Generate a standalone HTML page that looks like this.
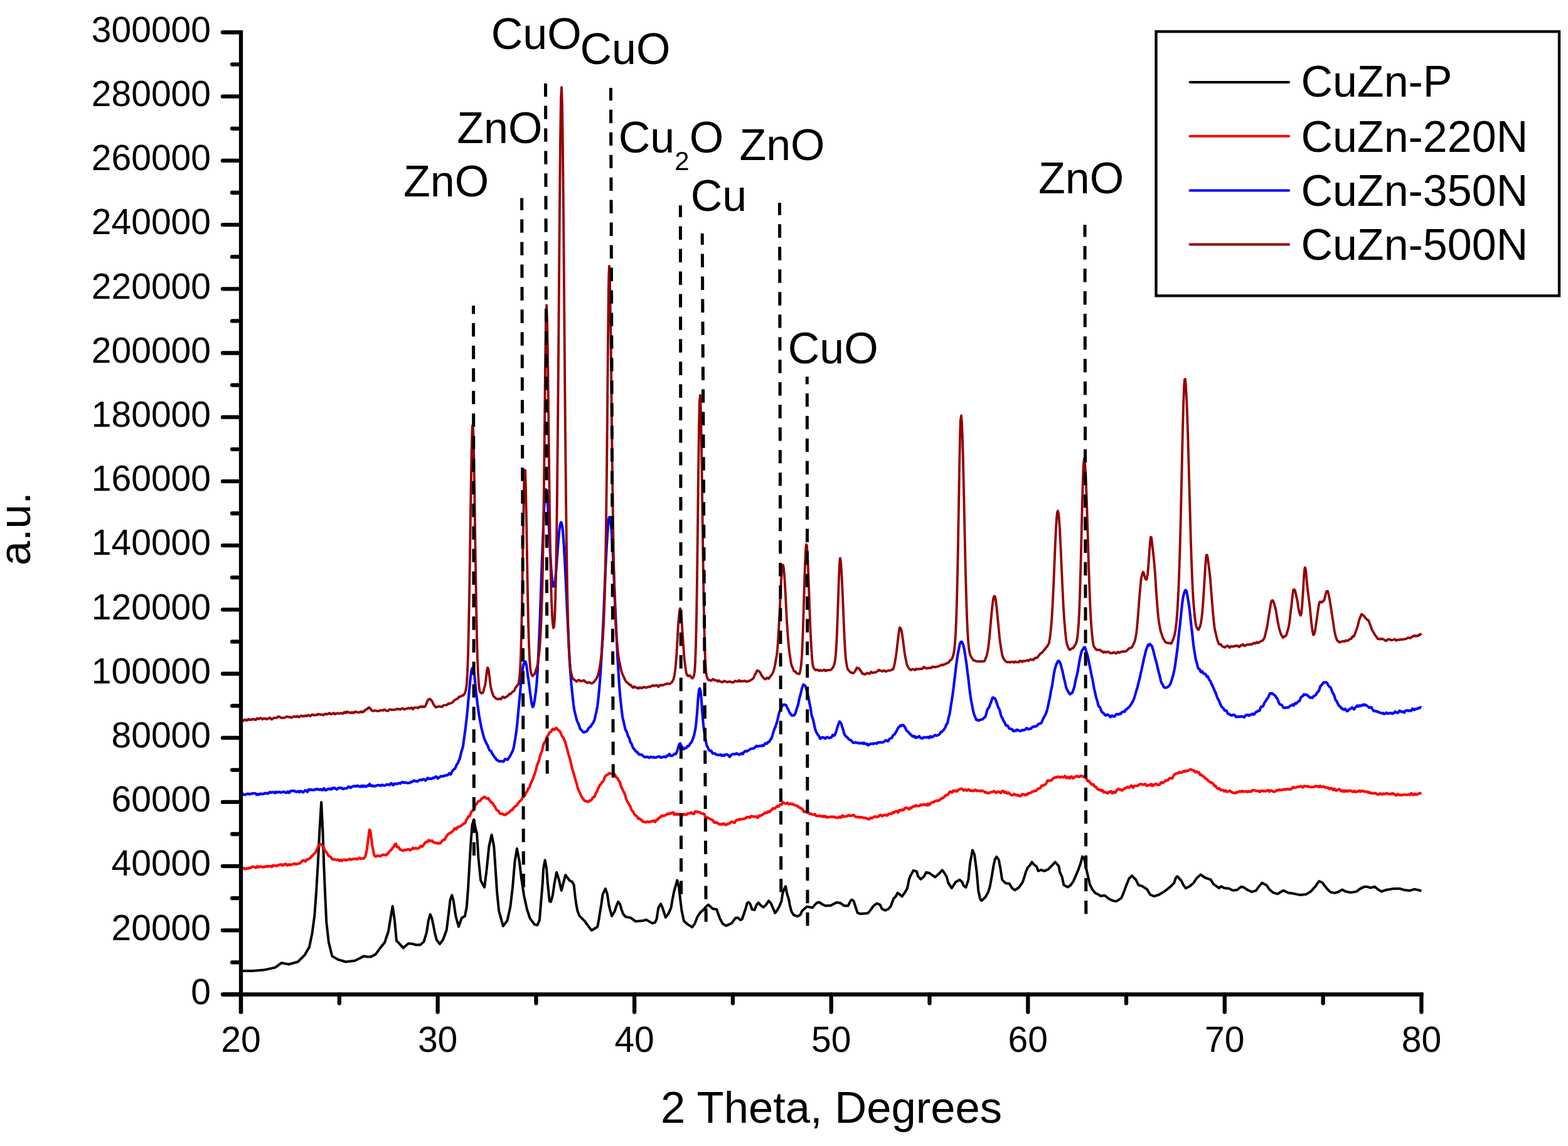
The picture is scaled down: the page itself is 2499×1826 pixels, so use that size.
<!DOCTYPE html>
<html><head><meta charset="utf-8"><title>XRD patterns</title>
<style>html,body{margin:0;padding:0;background:#fff;} svg{display:block;}</style></head>
<body><svg width="2499" height="1826" viewBox="0 0 2499 1826" font-family="'Liberation Sans', Arial, sans-serif" fill="#000">
<rect width="2499" height="1826" fill="#fff"/>
<path d="M384.0 1547.5 L387.6 1547.0 L402.2 1547.0 L420.3 1545.6 L438.5 1541.6 L448.5 1534.3 L460.3 1536.5 L474.8 1532.5 L485.7 1521.6 L493.0 1508.9 L497.5 1487.1 L501.2 1459.8 L503.9 1423.5 L506.6 1378.1 L509.3 1323.6 L512.1 1278.2 L514.4 1323.6 L516.2 1378.1 L518.1 1423.5 L520.2 1468.9 L523.9 1501.6 L529.3 1523.4 L538.4 1528.8 L551.1 1532.5 L565.7 1530.7 L580.2 1523.4 L584.0 1524.4 L591.3 1524.4 L598.5 1520.8 L605.8 1510.6 L613.0 1501.9 L618.9 1484.5 L622.5 1462.7 L625.7 1443.8 L629.0 1467.0 L631.9 1499.0 L636.3 1503.3 L642.8 1510.6 L650.8 1503.3 L658.1 1504.1 L662.4 1505.5 L669.7 1505.5 L675.5 1500.4 L679.9 1485.9 L682.8 1467.0 L685.7 1456.9 L688.6 1464.1 L692.9 1485.9 L695.8 1497.5 L700.9 1504.1 L706.0 1497.5 L711.8 1481.6 L715.4 1452.5 L717.6 1433.6 L720.2 1426.4 L722.7 1435.1 L726.3 1459.8 L731.0 1476.5 L735.8 1462.7 L740.9 1459.8 L743.8 1445.2 L746.0 1416.2 L748.1 1379.9 L750.3 1343.6 L752.5 1314.5 L755.1 1305.8 L758.3 1321.8 L760.0 1327.0 L762.4 1366.6 L766.1 1402.9 L772.1 1413.8 L775.7 1384.7 L779.4 1348.4 L783.6 1330.3 L787.2 1348.4 L789.7 1384.7 L792.1 1421.1 L795.1 1451.3 L801.8 1475.5 L808.4 1467.1 L813.3 1445.3 L816.9 1415.0 L820.5 1372.6 L823.9 1352.1 L827.8 1372.6 L831.4 1402.9 L835.1 1427.1 L839.9 1448.9 L844.7 1463.4 L852.0 1473.1 L856.5 1474.1 L859.9 1465.9 L862.3 1436.9 L864.7 1407.8 L866.1 1383.6 L868.6 1370.5 L871.0 1383.6 L872.9 1407.8 L875.8 1435.9 L877.8 1436.9 L880.7 1427.2 L883.6 1407.8 L887.0 1389.9 L890.4 1400.0 L894.7 1418.9 L898.1 1405.9 L901.2 1394.2 L907.8 1403.0 L911.7 1404.9 L914.6 1409.7 L916.5 1427.2 L918.5 1441.7 L920.4 1451.4 L923.3 1459.1 L932.0 1467.8 L936.9 1474.6 L942.7 1482.4 L949.4 1478.5 L952.3 1476.6 L954.3 1465.9 L958.2 1441.7 L960.6 1425.2 L964.9 1416.0 L967.8 1424.3 L970.7 1443.6 L972.7 1451.4 L975.1 1459.6 L979.5 1452.3 L982.4 1443.6 L985.3 1436.9 L988.2 1440.7 L990.6 1449.4 L993.0 1456.2 L997.1 1460.9 L1005.0 1462.3 L1013.0 1468.0 L1025.4 1467.1 L1029.8 1465.4 L1039.5 1471.1 L1044.0 1469.8 L1046.6 1464.0 L1049.3 1446.3 L1053.2 1440.2 L1055.9 1446.3 L1060.8 1461.8 L1065.2 1456.1 L1069.6 1446.3 L1071.4 1434.8 L1074.0 1421.6 L1079.3 1402.6 L1082.0 1413.6 L1084.2 1433.1 L1086.4 1450.8 L1090.0 1467.6 L1096.1 1472.9 L1103.2 1477.3 L1107.6 1471.1 L1111.2 1461.4 L1116.5 1453.4 L1120.0 1450.8 L1124.5 1445.5 L1128.9 1441.5 L1136.0 1448.1 L1142.1 1449.0 L1147.5 1464.0 L1151.9 1472.0 L1157.2 1475.1 L1166.0 1471.1 L1172.2 1462.7 L1175.8 1462.3 L1180.2 1466.0 L1182.7 1464.5 L1185.3 1457.0 L1188.8 1446.3 L1190.6 1439.3 L1192.8 1437.5 L1195.5 1440.2 L1198.6 1449.0 L1202.6 1449.9 L1205.7 1441.9 L1208.7 1438.4 L1212.7 1442.8 L1216.7 1445.5 L1220.7 1441.9 L1225.1 1435.3 L1228.7 1439.3 L1231.3 1445.5 L1235.3 1454.7 L1238.4 1450.8 L1241.9 1444.6 L1245.5 1435.7 L1247.2 1424.2 L1249.9 1416.3 L1252.1 1412.3 L1254.3 1424.2 L1257.0 1432.2 L1258.7 1441.9 L1261.4 1452.5 L1264.9 1457.8 L1271.1 1460.1 L1275.5 1457.8 L1278.2 1451.6 L1286.1 1444.6 L1295.0 1446.3 L1301.2 1438.8 L1305.6 1437.5 L1310.9 1441.0 L1315.3 1443.2 L1324.2 1442.8 L1333.0 1437.9 L1339.2 1438.8 L1345.4 1443.2 L1351.6 1443.2 L1356.0 1434.8 L1357.8 1433.5 L1360.5 1435.7 L1363.1 1443.7 L1366.6 1454.3 L1371.1 1456.1 L1378.8 1455.4 L1383.3 1455.0 L1387.7 1449.7 L1392.1 1443.5 L1397.4 1439.5 L1402.7 1441.7 L1405.4 1447.9 L1410.7 1450.6 L1415.1 1448.8 L1419.5 1444.4 L1424.0 1432.0 L1427.5 1428.5 L1430.6 1422.7 L1433.7 1424.9 L1437.7 1428.5 L1442.5 1421.4 L1446.1 1415.2 L1448.7 1401.9 L1450.5 1396.6 L1455.8 1386.9 L1461.1 1388.7 L1462.9 1395.7 L1467.3 1401.0 L1472.6 1396.6 L1476.1 1390.0 L1481.5 1391.3 L1485.0 1394.0 L1490.3 1397.5 L1495.6 1393.1 L1501.8 1386.4 L1505.3 1391.3 L1508.9 1397.5 L1511.5 1407.2 L1516.8 1415.2 L1523.0 1405.5 L1529.2 1401.9 L1533.6 1405.5 L1535.4 1410.8 L1539.4 1413.9 L1543.4 1401.9 L1546.0 1375.4 L1550.0 1354.6 L1553.1 1362.1 L1556.6 1388.7 L1559.3 1419.6 L1562.0 1432.0 L1564.6 1435.1 L1570.6 1429.3 L1575.0 1421.4 L1577.7 1412.5 L1580.3 1398.4 L1583.4 1379.8 L1585.7 1369.2 L1588.3 1365.2 L1591.8 1370.1 L1594.5 1384.2 L1597.2 1401.9 L1602.5 1407.2 L1608.7 1408.1 L1613.1 1415.2 L1617.5 1418.3 L1623.7 1414.3 L1629.9 1405.5 L1632.5 1397.5 L1635.2 1388.7 L1637.8 1382.5 L1641.4 1378.9 L1644.5 1373.6 L1647.6 1377.2 L1652.0 1380.7 L1654.7 1387.8 L1659.1 1386.0 L1664.4 1387.8 L1670.6 1385.1 L1677.6 1378.0 L1681.6 1373.6 L1687.4 1379.8 L1689.1 1389.5 L1692.7 1397.5 L1695.3 1409.9 L1701.5 1413.4 L1706.0 1410.8 L1710.4 1404.6 L1714.8 1394.8 L1719.2 1384.2 L1722.8 1373.6 L1725.0 1364.8 L1728.1 1368.3 L1731.6 1386.0 L1734.3 1397.5 L1736.9 1409.0 L1741.3 1417.8 L1745.8 1423.1 L1750.0 1425.0 L1754.4 1427.7 L1760.6 1426.8 L1767.7 1432.5 L1773.9 1435.2 L1779.2 1436.1 L1787.2 1430.8 L1791.6 1420.2 L1795.1 1410.4 L1799.5 1399.8 L1804.0 1395.4 L1810.2 1401.6 L1814.6 1410.4 L1819.9 1411.7 L1827.8 1416.6 L1833.1 1425.5 L1839.3 1428.1 L1847.3 1425.5 L1856.1 1420.2 L1865.0 1413.1 L1871.2 1406.9 L1873.8 1398.9 L1876.5 1396.3 L1882.7 1403.3 L1886.2 1410.4 L1889.8 1415.3 L1896.0 1412.2 L1902.1 1406.9 L1907.5 1398.9 L1913.6 1393.6 L1920.7 1398.5 L1929.6 1401.6 L1934.0 1408.7 L1940.2 1413.1 L1943.0 1415.0 L1946.0 1412.3 L1951.3 1415.0 L1958.8 1415.7 L1964.8 1418.7 L1971.6 1418.0 L1977.6 1413.1 L1982.1 1413.8 L1988.9 1418.3 L1994.9 1421.0 L2001.7 1419.1 L2005.4 1413.8 L2011.4 1406.7 L2018.9 1410.8 L2022.7 1416.8 L2028.7 1422.1 L2036.2 1424.4 L2045.3 1418.7 L2052.8 1422.5 L2060.3 1423.6 L2071.6 1425.9 L2081.4 1425.1 L2088.9 1420.6 L2096.4 1412.3 L2099.4 1407.8 L2102.4 1404.1 L2107.5 1406.3 L2111.3 1411.6 L2115.0 1416.1 L2120.3 1421.4 L2127.1 1422.9 L2133.1 1421.0 L2139.1 1417.6 L2145.1 1420.6 L2152.6 1422.1 L2161.7 1420.6 L2167.7 1416.1 L2173.7 1413.1 L2179.7 1413.1 L2184.2 1414.6 L2191.0 1412.7 L2194.7 1416.1 L2201.5 1420.6 L2209.0 1418.0 L2220.3 1416.1 L2231.6 1416.1 L2239.1 1418.3 L2246.6 1419.1 L2254.1 1416.8 L2257.9 1417.6 L2265.4 1419.5" fill="none" stroke="#000000" stroke-width="4.0" stroke-linejoin="round"/>
<path d="M384.0 1385.1 L385.0 1385.0 L386.0 1384.3 L387.0 1383.6 L388.0 1383.4 L389.0 1383.4 L390.0 1384.3 L391.0 1384.9 L392.0 1383.8 L393.0 1383.4 L394.0 1384.0 L395.0 1384.2 L396.0 1383.4 L397.0 1382.8 L398.0 1383.3 L399.0 1383.3 L400.0 1382.3 L401.0 1381.6 L402.0 1381.0 L403.0 1380.6 L404.0 1381.0 L405.0 1381.5 L406.0 1381.8 L407.0 1382.4 L408.0 1382.7 L409.0 1381.5 L410.0 1380.2 L411.0 1380.9 L412.0 1382.0 L413.0 1381.6 L414.0 1380.7 L415.0 1380.6 L416.0 1380.6 L417.0 1381.1 L418.0 1381.8 L419.0 1381.3 L420.0 1381.4 L421.0 1381.7 L422.0 1381.0 L423.0 1380.7 L424.0 1380.9 L425.0 1380.4 L426.0 1379.8 L427.0 1380.6 L428.0 1380.8 L429.0 1379.9 L430.0 1380.2 L431.0 1380.1 L432.0 1380.2 L433.0 1381.3 L434.0 1380.5 L435.0 1378.9 L436.0 1379.2 L437.0 1379.6 L438.0 1379.4 L439.0 1379.4 L440.0 1379.3 L441.0 1379.8 L442.0 1379.7 L443.0 1378.7 L444.0 1378.2 L445.0 1378.2 L446.0 1377.8 L447.0 1377.2 L448.0 1377.3 L449.0 1378.1 L450.0 1379.2 L451.0 1378.8 L452.0 1377.2 L453.0 1377.2 L454.0 1377.4 L455.0 1376.5 L456.0 1376.8 L457.0 1378.1 L458.0 1379.0 L459.0 1378.7 L460.0 1377.6 L461.0 1377.2 L462.0 1377.9 L463.0 1378.5 L464.0 1377.6 L465.0 1377.2 L466.0 1377.4 L467.0 1377.2 L468.0 1376.5 L469.0 1376.0 L470.0 1376.2 L471.0 1376.7 L472.0 1377.4 L473.0 1377.1 L474.0 1376.4 L475.0 1376.1 L476.0 1375.8 L477.0 1375.8 L478.0 1375.5 L479.0 1374.5 L480.0 1373.5 L481.0 1372.9 L482.0 1371.5 L483.0 1370.7 L484.0 1371.2 L485.0 1371.3 L486.0 1372.2 L487.0 1372.5 L488.0 1370.5 L489.0 1369.3 L490.0 1369.6 L491.0 1369.3 L492.0 1368.2 L493.0 1367.7 L494.0 1367.6 L495.0 1366.5 L496.0 1364.8 L497.0 1364.1 L498.0 1363.3 L499.0 1362.0 L500.0 1361.0 L501.0 1360.1 L502.0 1359.4 L503.0 1357.9 L504.0 1355.7 L505.0 1353.6 L506.0 1351.2 L507.0 1348.6 L508.0 1347.4 L509.0 1346.6 L510.0 1345.3 L511.0 1345.1 L511.0 1345.2 L512.0 1345.5 L513.0 1346.4 L514.0 1347.8 L515.0 1348.7 L516.0 1350.0 L517.0 1353.4 L518.0 1355.9 L519.0 1356.7 L520.0 1357.8 L521.0 1359.1 L522.0 1360.8 L523.0 1362.8 L524.0 1363.8 L525.0 1364.3 L526.0 1364.9 L527.0 1365.4 L528.0 1366.6 L529.0 1368.4 L530.0 1369.3 L531.0 1369.7 L532.0 1369.5 L533.0 1369.1 L534.0 1369.4 L535.0 1369.8 L536.0 1370.2 L537.0 1370.3 L538.0 1370.0 L539.0 1369.5 L540.0 1370.5 L541.0 1371.7 L542.0 1370.8 L543.0 1370.2 L544.0 1371.5 L545.0 1371.7 L546.0 1370.4 L547.0 1370.0 L548.0 1369.7 L549.0 1369.5 L550.0 1370.6 L551.0 1370.9 L552.0 1370.2 L553.0 1370.0 L554.0 1370.1 L555.0 1369.8 L556.0 1369.2 L557.0 1368.5 L558.0 1368.9 L559.0 1369.9 L560.0 1369.6 L561.0 1369.3 L562.0 1369.0 L563.0 1368.4 L564.0 1368.5 L565.0 1368.8 L566.0 1368.4 L567.0 1368.1 L568.0 1368.6 L569.0 1369.2 L570.0 1369.0 L571.0 1368.1 L572.0 1366.9 L573.0 1366.7 L574.0 1368.0 L575.0 1368.3 L576.0 1367.7 L577.0 1367.8 L578.0 1368.1 L579.0 1368.1 L580.0 1367.4 L581.0 1366.4 L582.0 1364.9 L583.0 1361.5 L584.0 1357.3 L585.0 1351.3 L586.0 1343.6 L587.0 1335.9 L588.0 1328.1 L588.6 1323.3 L589.0 1322.0 L590.0 1324.0 L591.0 1329.0 L592.0 1336.9 L593.0 1345.3 L594.0 1350.9 L595.0 1356.1 L596.0 1361.2 L597.0 1363.9 L598.0 1364.7 L599.0 1364.8 L600.0 1364.0 L601.0 1363.6 L602.0 1363.9 L603.0 1363.4 L604.0 1363.2 L605.0 1364.1 L606.0 1364.5 L607.0 1363.9 L608.0 1362.9 L609.0 1362.2 L610.0 1361.9 L611.0 1362.0 L612.0 1362.2 L613.0 1362.0 L614.0 1362.1 L615.0 1362.8 L616.0 1362.3 L617.0 1360.7 L618.0 1360.1 L619.0 1359.4 L620.0 1357.7 L621.0 1355.9 L622.0 1355.3 L623.0 1354.9 L624.0 1353.4 L625.0 1351.7 L626.0 1350.7 L627.0 1350.1 L628.0 1348.1 L628.7 1346.2 L629.0 1345.9 L630.0 1344.8 L631.0 1344.5 L632.0 1347.2 L633.0 1349.8 L634.0 1349.9 L635.0 1349.5 L636.0 1350.9 L637.0 1353.1 L638.0 1353.8 L639.0 1353.9 L640.0 1354.2 L641.0 1354.9 L642.0 1355.5 L643.0 1355.6 L644.0 1354.7 L645.0 1354.2 L646.0 1354.3 L647.0 1354.5 L648.0 1354.3 L649.0 1353.5 L650.0 1353.3 L651.0 1353.2 L652.0 1353.2 L653.0 1354.7 L654.0 1354.8 L655.0 1353.5 L656.0 1353.4 L657.0 1352.3 L658.0 1350.9 L659.0 1351.6 L660.0 1352.4 L661.0 1351.8 L662.0 1351.1 L663.0 1351.2 L664.0 1351.8 L665.0 1352.3 L666.0 1351.8 L667.0 1351.5 L668.0 1351.3 L669.0 1350.0 L670.0 1348.2 L671.0 1347.9 L672.0 1348.9 L673.0 1348.9 L674.0 1347.7 L675.0 1346.3 L676.0 1344.9 L677.0 1343.6 L678.0 1342.3 L679.0 1341.4 L680.0 1341.3 L681.0 1341.5 L682.0 1340.5 L683.0 1339.1 L683.1 1338.5 L684.0 1338.9 L685.0 1340.2 L686.0 1340.2 L687.0 1339.7 L688.0 1339.4 L689.0 1339.6 L690.0 1341.1 L691.0 1342.3 L692.0 1342.4 L693.0 1342.6 L694.0 1343.3 L695.0 1343.3 L696.0 1342.9 L697.0 1343.1 L698.0 1343.7 L699.0 1344.0 L700.0 1343.5 L701.0 1343.8 L702.0 1343.7 L703.0 1341.9 L704.0 1340.5 L705.0 1340.1 L706.0 1338.9 L707.0 1337.7 L708.0 1337.9 L709.0 1337.7 L710.0 1335.5 L711.0 1333.2 L712.0 1331.9 L713.0 1330.9 L714.0 1329.1 L715.0 1328.4 L716.0 1328.3 L717.0 1327.3 L718.0 1327.1 L719.0 1326.7 L720.0 1325.2 L721.0 1324.7 L722.0 1324.3 L723.0 1322.4 L724.0 1320.5 L725.0 1319.7 L726.0 1320.5 L727.0 1321.4 L728.0 1320.3 L729.0 1318.2 L730.0 1317.2 L731.0 1317.3 L732.0 1317.3 L733.0 1316.8 L734.0 1316.3 L735.0 1315.6 L736.0 1314.5 L737.0 1313.8 L738.0 1313.1 L739.0 1312.3 L740.0 1312.1 L741.0 1311.8 L742.0 1310.1 L743.0 1307.3 L744.0 1305.3 L745.0 1303.9 L746.0 1301.7 L747.0 1300.6 L748.0 1300.8 L749.0 1299.6 L750.0 1296.7 L751.0 1294.0 L752.0 1292.6 L753.0 1291.6 L754.0 1291.4 L755.0 1290.7 L756.0 1287.7 L757.0 1284.4 L758.0 1282.6 L759.0 1281.7 L760.0 1280.2 L761.0 1278.5 L762.0 1277.3 L763.0 1276.4 L764.0 1276.5 L765.0 1276.3 L766.0 1274.8 L767.0 1273.2 L768.0 1272.5 L769.0 1271.8 L770.0 1271.0 L771.0 1270.3 L772.0 1269.5 L773.0 1269.9 L774.0 1271.3 L775.0 1271.8 L776.0 1272.4 L777.0 1272.7 L778.0 1271.9 L779.0 1272.7 L780.0 1274.8 L781.0 1276.0 L782.0 1277.1 L783.0 1278.7 L784.0 1279.4 L785.0 1279.4 L786.0 1281.0 L787.0 1283.7 L788.0 1284.5 L789.0 1285.2 L790.0 1287.8 L791.0 1290.1 L792.0 1290.9 L793.0 1291.2 L794.0 1291.4 L795.0 1293.2 L796.0 1295.6 L797.0 1296.5 L798.0 1296.8 L799.0 1296.7 L800.0 1296.4 L801.0 1296.3 L802.0 1297.4 L803.0 1298.3 L804.0 1298.1 L805.0 1298.6 L806.0 1298.2 L807.0 1296.8 L808.0 1296.3 L809.0 1296.1 L810.0 1295.7 L811.0 1294.6 L812.0 1293.6 L813.0 1292.8 L814.0 1291.4 L815.0 1290.5 L816.0 1290.6 L817.0 1289.9 L818.0 1287.9 L819.0 1286.9 L820.0 1285.7 L821.0 1284.8 L822.0 1284.4 L823.0 1283.7 L824.0 1282.7 L825.0 1281.0 L826.0 1279.6 L827.0 1278.2 L828.0 1276.9 L829.0 1276.3 L830.0 1275.4 L831.0 1274.3 L832.0 1272.5 L833.0 1270.6 L834.0 1269.8 L835.0 1269.3 L836.0 1268.0 L837.0 1265.8 L838.0 1263.7 L839.0 1262.1 L840.0 1261.0 L841.0 1258.6 L842.0 1256.2 L843.0 1255.8 L844.0 1254.3 L845.0 1250.8 L846.0 1248.0 L847.0 1246.0 L848.0 1243.9 L849.0 1241.9 L850.0 1238.9 L851.0 1236.2 L852.0 1233.7 L853.0 1230.6 L854.0 1227.2 L855.0 1223.3 L856.0 1219.0 L857.0 1216.4 L858.0 1214.7 L859.0 1211.3 L860.0 1207.4 L861.0 1204.1 L862.0 1200.9 L863.0 1198.4 L864.0 1195.6 L865.0 1190.9 L866.0 1186.8 L867.0 1184.2 L868.0 1182.4 L869.0 1181.5 L870.0 1179.4 L871.0 1175.8 L872.0 1173.2 L873.0 1172.6 L874.0 1171.0 L875.0 1168.2 L876.0 1167.1 L877.0 1166.6 L878.0 1165.6 L879.0 1164.1 L880.0 1162.6 L881.0 1161.4 L882.0 1161.7 L883.0 1163.0 L884.0 1162.7 L885.0 1161.3 L886.0 1160.2 L887.0 1160.0 L888.0 1161.3 L889.0 1162.7 L890.0 1163.5 L891.0 1164.0 L892.0 1164.7 L893.0 1166.4 L894.0 1168.8 L895.0 1171.7 L896.0 1173.7 L897.0 1174.2 L898.0 1175.6 L899.0 1178.1 L900.0 1180.6 L901.0 1183.5 L902.0 1186.7 L903.0 1190.2 L904.0 1194.2 L905.0 1198.0 L906.0 1201.5 L907.0 1204.9 L908.0 1208.1 L909.0 1211.9 L910.0 1216.1 L911.0 1220.4 L912.0 1224.7 L913.0 1228.1 L914.0 1231.3 L915.0 1235.1 L916.0 1238.5 L917.0 1242.2 L918.0 1245.4 L919.0 1248.3 L920.0 1252.5 L921.0 1256.2 L922.0 1258.7 L923.0 1261.0 L924.0 1263.2 L925.0 1265.2 L926.0 1267.4 L927.0 1269.5 L928.0 1271.0 L929.0 1272.2 L930.0 1273.9 L931.0 1275.3 L932.0 1275.7 L933.0 1276.4 L934.0 1276.6 L935.0 1276.4 L936.0 1277.2 L937.0 1277.7 L938.0 1277.5 L939.0 1276.8 L940.0 1275.7 L941.0 1275.2 L942.0 1275.1 L943.0 1274.3 L944.0 1272.3 L945.0 1270.5 L946.0 1270.3 L947.0 1270.1 L948.0 1268.4 L949.0 1265.4 L950.0 1263.0 L951.0 1262.0 L952.0 1259.4 L953.0 1256.4 L954.0 1255.1 L955.0 1252.9 L956.0 1250.7 L957.0 1250.0 L958.0 1249.2 L959.0 1247.1 L960.0 1245.7 L961.0 1245.3 L962.0 1243.5 L963.0 1240.6 L964.0 1238.0 L965.0 1236.1 L966.0 1235.4 L967.0 1235.3 L968.0 1234.7 L969.0 1234.0 L970.0 1233.2 L971.0 1232.0 L972.0 1231.9 L973.0 1232.5 L974.0 1233.0 L975.0 1233.2 L976.0 1233.0 L977.0 1233.0 L978.0 1233.5 L979.0 1233.3 L980.0 1234.2 L981.0 1236.6 L982.0 1238.4 L983.0 1239.1 L984.0 1239.8 L985.0 1241.7 L986.0 1243.8 L987.0 1245.0 L988.0 1246.6 L989.0 1250.1 L990.0 1253.7 L991.0 1255.7 L992.0 1257.3 L993.0 1260.0 L994.0 1261.8 L995.0 1262.7 L996.0 1266.0 L997.0 1269.8 L998.0 1272.8 L999.0 1275.6 L1000.0 1277.5 L1001.0 1278.8 L1002.0 1280.7 L1003.0 1282.6 L1004.0 1284.0 L1005.0 1286.1 L1006.0 1289.3 L1007.0 1291.4 L1008.0 1292.0 L1009.0 1293.0 L1010.0 1295.2 L1011.0 1297.1 L1012.0 1298.5 L1013.0 1299.5 L1014.0 1299.8 L1015.0 1300.6 L1016.0 1302.3 L1017.0 1304.2 L1018.0 1304.7 L1019.0 1304.0 L1020.0 1304.7 L1021.0 1306.2 L1022.0 1306.2 L1023.0 1306.8 L1024.0 1308.6 L1025.0 1309.6 L1026.0 1309.4 L1027.0 1309.5 L1028.0 1310.1 L1029.0 1310.3 L1030.0 1310.2 L1031.0 1309.3 L1032.0 1309.0 L1033.0 1309.5 L1034.0 1309.6 L1035.0 1310.0 L1036.0 1309.6 L1037.0 1308.7 L1038.0 1308.6 L1039.0 1308.8 L1040.0 1308.7 L1041.0 1307.7 L1042.0 1307.5 L1043.0 1308.8 L1044.0 1309.7 L1045.0 1308.7 L1046.0 1306.7 L1047.0 1306.1 L1048.0 1306.1 L1049.0 1304.5 L1050.0 1303.1 L1051.0 1303.2 L1052.0 1302.9 L1053.0 1301.2 L1054.0 1299.7 L1055.0 1299.8 L1056.0 1300.4 L1057.0 1299.9 L1058.0 1299.5 L1059.0 1299.7 L1060.0 1299.3 L1061.0 1298.7 L1062.0 1298.0 L1063.0 1297.1 L1064.0 1296.4 L1065.0 1296.6 L1066.0 1297.3 L1067.0 1296.7 L1068.0 1295.7 L1069.0 1295.6 L1070.0 1296.0 L1071.0 1295.8 L1072.0 1294.6 L1073.0 1294.4 L1074.0 1296.2 L1075.0 1298.1 L1076.0 1297.6 L1077.0 1296.6 L1078.0 1297.5 L1079.0 1298.1 L1080.0 1296.9 L1081.0 1296.7 L1082.0 1297.8 L1083.0 1298.0 L1084.0 1297.6 L1085.0 1297.9 L1086.0 1299.3 L1087.0 1299.8 L1088.0 1299.0 L1089.0 1297.7 L1090.0 1296.8 L1091.0 1297.5 L1092.0 1298.1 L1093.0 1298.3 L1094.0 1298.2 L1095.0 1296.9 L1096.0 1296.0 L1097.0 1296.5 L1098.0 1296.3 L1099.0 1295.9 L1100.0 1295.7 L1101.0 1294.8 L1102.0 1294.5 L1103.0 1295.8 L1104.0 1296.5 L1105.0 1296.9 L1106.0 1297.0 L1107.0 1295.0 L1108.0 1293.1 L1109.0 1292.9 L1110.0 1293.2 L1111.0 1293.9 L1112.0 1293.8 L1113.0 1293.5 L1114.0 1293.9 L1115.0 1294.3 L1116.0 1295.0 L1117.0 1295.7 L1118.0 1295.9 L1119.0 1296.2 L1120.0 1296.4 L1121.0 1296.4 L1122.0 1296.7 L1123.0 1298.9 L1124.0 1301.6 L1125.0 1302.8 L1126.0 1302.8 L1127.0 1302.3 L1128.0 1302.6 L1129.0 1303.8 L1130.0 1304.2 L1131.0 1304.2 L1132.0 1304.9 L1133.0 1305.6 L1134.0 1306.1 L1135.0 1306.5 L1136.0 1306.8 L1137.0 1308.5 L1138.0 1310.5 L1139.0 1310.2 L1140.0 1310.0 L1141.0 1311.1 L1142.0 1311.3 L1143.0 1310.7 L1144.0 1311.5 L1145.0 1312.8 L1146.0 1313.0 L1147.0 1313.4 L1148.0 1313.8 L1149.0 1313.2 L1150.0 1312.8 L1151.0 1313.5 L1152.0 1313.6 L1153.0 1312.3 L1154.0 1312.1 L1155.0 1313.1 L1156.0 1314.0 L1157.0 1314.6 L1158.0 1313.9 L1159.0 1312.7 L1160.0 1312.8 L1161.0 1312.6 L1162.0 1312.1 L1163.0 1312.1 L1164.0 1310.7 L1165.0 1309.7 L1166.0 1309.8 L1167.0 1309.6 L1168.0 1309.8 L1169.0 1310.5 L1170.0 1310.9 L1171.0 1310.8 L1172.0 1309.0 L1173.0 1307.2 L1174.0 1306.8 L1175.0 1306.4 L1176.0 1306.4 L1177.0 1306.7 L1178.0 1305.6 L1179.0 1304.8 L1180.0 1305.6 L1181.0 1305.7 L1182.0 1305.3 L1183.0 1305.2 L1184.0 1304.9 L1185.0 1304.8 L1186.0 1304.8 L1187.0 1304.4 L1188.0 1303.8 L1189.0 1302.9 L1190.0 1301.8 L1191.0 1301.9 L1192.0 1302.3 L1193.0 1301.9 L1194.0 1301.9 L1195.0 1302.9 L1196.0 1302.3 L1197.0 1300.5 L1198.0 1300.0 L1199.0 1300.9 L1200.0 1301.3 L1201.0 1301.1 L1202.0 1301.2 L1203.0 1301.3 L1204.0 1301.4 L1205.0 1301.0 L1206.0 1301.3 L1207.0 1302.8 L1208.0 1302.9 L1209.0 1300.8 L1210.0 1299.6 L1211.0 1299.8 L1212.0 1299.9 L1213.0 1299.0 L1214.0 1298.7 L1215.0 1298.5 L1216.0 1297.6 L1217.0 1297.0 L1218.0 1296.3 L1219.0 1295.0 L1220.0 1294.8 L1221.0 1295.4 L1222.0 1295.6 L1223.0 1294.3 L1224.0 1292.9 L1225.0 1293.1 L1226.0 1293.8 L1227.0 1293.2 L1228.0 1291.7 L1229.0 1290.7 L1230.0 1290.4 L1231.0 1289.1 L1232.0 1287.7 L1233.0 1287.9 L1234.0 1288.5 L1235.0 1288.1 L1236.0 1287.1 L1237.0 1286.1 L1238.0 1285.3 L1239.0 1284.3 L1240.0 1284.4 L1241.0 1285.4 L1242.0 1284.1 L1243.0 1282.1 L1244.0 1281.6 L1245.0 1282.0 L1246.0 1281.8 L1247.0 1280.0 L1248.0 1278.7 L1249.0 1279.1 L1250.0 1279.7 L1251.0 1280.2 L1252.0 1280.6 L1253.0 1280.4 L1254.0 1279.7 L1255.0 1279.2 L1256.0 1280.5 L1257.0 1281.7 L1258.0 1281.1 L1259.0 1280.4 L1260.0 1281.0 L1261.0 1281.4 L1262.0 1280.6 L1263.0 1280.8 L1264.0 1282.0 L1265.0 1282.4 L1266.0 1282.4 L1267.0 1282.8 L1268.0 1283.2 L1269.0 1283.7 L1270.0 1283.9 L1271.0 1284.0 L1272.0 1285.4 L1273.0 1286.3 L1274.0 1286.2 L1275.0 1287.0 L1276.0 1287.9 L1277.0 1288.0 L1278.0 1288.4 L1279.0 1289.4 L1280.0 1291.6 L1281.0 1293.7 L1282.0 1293.7 L1283.0 1292.8 L1284.0 1293.0 L1285.0 1293.5 L1286.0 1294.3 L1287.0 1294.8 L1288.0 1294.6 L1289.0 1295.3 L1290.0 1296.4 L1291.0 1297.0 L1292.0 1296.7 L1293.0 1296.4 L1294.0 1297.3 L1295.0 1298.1 L1296.0 1298.3 L1297.0 1298.3 L1298.0 1297.4 L1299.0 1297.2 L1300.0 1299.1 L1301.0 1300.1 L1302.0 1299.8 L1303.0 1300.1 L1304.0 1300.4 L1305.0 1299.8 L1306.0 1299.4 L1307.0 1300.3 L1308.0 1300.7 L1309.0 1300.4 L1310.0 1300.9 L1311.0 1300.4 L1312.0 1300.4 L1313.0 1301.6 L1314.0 1301.1 L1315.0 1300.1 L1316.0 1300.9 L1317.0 1302.4 L1318.0 1302.6 L1319.0 1301.8 L1320.0 1302.0 L1321.0 1302.1 L1322.0 1301.6 L1323.0 1301.7 L1324.0 1301.7 L1325.0 1301.2 L1326.0 1301.2 L1327.0 1301.7 L1328.0 1301.6 L1329.0 1301.2 L1330.0 1301.6 L1331.0 1302.5 L1332.0 1302.6 L1333.0 1302.8 L1334.0 1303.0 L1335.0 1303.2 L1336.0 1303.0 L1337.0 1301.8 L1338.0 1301.4 L1339.0 1301.9 L1340.0 1302.9 L1341.0 1302.2 L1342.0 1299.6 L1343.0 1299.5 L1344.0 1301.0 L1345.0 1301.6 L1346.0 1301.2 L1347.0 1300.7 L1348.0 1300.7 L1349.0 1300.7 L1350.0 1300.6 L1351.0 1299.8 L1352.0 1298.8 L1353.0 1299.1 L1354.0 1299.7 L1355.0 1300.1 L1356.0 1299.7 L1357.0 1299.3 L1358.0 1299.6 L1359.0 1299.2 L1360.0 1298.6 L1361.0 1298.8 L1362.0 1300.0 L1363.0 1301.3 L1364.0 1301.7 L1365.0 1301.6 L1366.0 1301.9 L1367.0 1301.7 L1368.0 1301.7 L1369.0 1302.5 L1370.0 1302.8 L1371.0 1302.1 L1372.0 1301.9 L1373.0 1302.3 L1374.0 1302.3 L1375.0 1302.5 L1376.0 1303.2 L1377.0 1303.3 L1378.0 1303.1 L1379.0 1303.0 L1380.0 1303.5 L1381.0 1303.8 L1382.0 1304.1 L1383.0 1305.1 L1384.0 1305.3 L1385.0 1305.4 L1386.0 1304.7 L1387.0 1303.2 L1388.0 1303.1 L1389.0 1303.6 L1390.0 1303.5 L1391.0 1303.1 L1392.0 1302.2 L1393.0 1301.4 L1394.0 1301.1 L1395.0 1301.0 L1396.0 1301.6 L1397.0 1301.6 L1398.0 1301.2 L1399.0 1301.5 L1400.0 1301.2 L1401.0 1299.8 L1402.0 1298.9 L1403.0 1298.7 L1404.0 1298.4 L1405.0 1299.5 L1406.0 1300.6 L1407.0 1299.9 L1408.0 1299.2 L1409.0 1298.7 L1410.0 1298.6 L1411.0 1298.6 L1412.0 1298.5 L1413.0 1299.2 L1414.0 1299.5 L1415.0 1298.4 L1416.0 1297.1 L1417.0 1296.5 L1418.0 1296.6 L1419.0 1296.7 L1420.0 1296.6 L1421.0 1296.7 L1422.0 1296.0 L1423.0 1294.2 L1424.0 1294.2 L1425.0 1294.9 L1426.0 1293.9 L1427.0 1293.0 L1428.0 1292.5 L1429.0 1292.2 L1430.0 1293.4 L1431.0 1294.9 L1432.0 1293.7 L1433.0 1291.3 L1434.0 1290.5 L1435.0 1291.2 L1436.0 1291.4 L1437.0 1290.3 L1438.0 1290.0 L1439.0 1291.0 L1440.0 1290.8 L1441.0 1289.3 L1442.0 1287.8 L1443.0 1287.3 L1444.0 1286.9 L1445.0 1286.9 L1446.0 1287.8 L1447.0 1288.0 L1448.0 1288.6 L1449.0 1289.5 L1450.0 1288.4 L1451.0 1286.9 L1452.0 1287.4 L1453.0 1287.4 L1454.0 1285.8 L1455.0 1285.0 L1456.0 1284.8 L1457.0 1284.9 L1458.0 1285.0 L1459.0 1283.5 L1460.0 1283.1 L1461.0 1284.0 L1462.0 1284.3 L1463.0 1284.4 L1464.0 1284.2 L1465.0 1284.2 L1466.0 1283.6 L1467.0 1282.2 L1468.0 1282.1 L1469.0 1282.5 L1470.0 1282.7 L1471.0 1282.4 L1472.0 1281.5 L1473.0 1281.6 L1474.0 1282.4 L1475.0 1282.0 L1476.0 1281.9 L1477.0 1283.4 L1478.0 1283.0 L1479.0 1280.7 L1480.0 1281.2 L1481.0 1282.6 L1482.0 1281.6 L1483.0 1280.1 L1484.0 1279.2 L1485.0 1278.6 L1486.0 1278.3 L1487.0 1278.3 L1488.0 1278.4 L1489.0 1277.6 L1490.0 1276.5 L1491.0 1276.0 L1492.0 1275.8 L1493.0 1275.5 L1494.0 1275.7 L1495.0 1276.2 L1496.0 1275.7 L1497.0 1275.0 L1498.0 1274.3 L1499.0 1273.4 L1500.0 1272.5 L1501.0 1272.2 L1502.0 1271.6 L1503.0 1270.9 L1504.0 1270.9 L1505.0 1269.9 L1506.0 1268.3 L1507.0 1267.5 L1508.0 1267.1 L1509.0 1266.7 L1510.0 1266.4 L1511.0 1266.0 L1512.0 1264.1 L1513.0 1262.2 L1514.0 1261.6 L1515.0 1261.3 L1516.0 1262.1 L1517.0 1262.9 L1518.0 1261.7 L1519.0 1259.7 L1520.0 1259.8 L1521.0 1260.9 L1522.0 1260.2 L1523.0 1259.5 L1524.0 1260.3 L1525.0 1261.1 L1526.0 1260.1 L1527.0 1258.7 L1528.0 1258.4 L1529.0 1258.1 L1530.0 1257.1 L1531.0 1256.7 L1532.0 1257.0 L1533.0 1257.1 L1534.0 1257.6 L1535.0 1259.0 L1536.0 1259.6 L1537.0 1258.5 L1538.0 1258.0 L1539.0 1258.7 L1540.0 1259.5 L1541.0 1259.8 L1542.0 1259.0 L1543.0 1258.0 L1544.0 1257.7 L1545.0 1258.7 L1546.0 1260.0 L1547.0 1259.9 L1548.0 1259.3 L1549.0 1259.6 L1550.0 1260.3 L1551.0 1260.5 L1552.0 1260.0 L1553.0 1259.3 L1554.0 1258.5 L1555.0 1259.4 L1556.0 1260.3 L1557.0 1259.2 L1558.0 1259.4 L1559.0 1260.3 L1560.0 1260.0 L1561.0 1259.8 L1562.0 1260.3 L1563.0 1260.7 L1564.0 1260.1 L1565.0 1259.6 L1566.0 1260.1 L1567.0 1260.4 L1568.0 1260.8 L1569.0 1261.8 L1570.0 1262.7 L1571.0 1262.6 L1572.0 1262.3 L1573.0 1263.0 L1574.0 1263.8 L1575.0 1264.0 L1576.0 1263.7 L1577.0 1262.7 L1578.0 1262.5 L1579.0 1262.4 L1580.0 1261.7 L1581.0 1261.8 L1582.0 1261.8 L1583.0 1261.1 L1584.0 1260.5 L1585.0 1260.9 L1586.0 1262.1 L1587.0 1263.1 L1588.0 1263.1 L1589.0 1262.2 L1590.0 1261.5 L1591.0 1261.4 L1592.0 1261.8 L1593.0 1262.1 L1594.0 1262.9 L1595.0 1263.5 L1596.0 1262.1 L1597.0 1260.6 L1598.0 1260.4 L1599.0 1260.4 L1600.0 1261.4 L1601.0 1263.1 L1602.0 1262.7 L1603.0 1262.0 L1604.0 1263.4 L1605.0 1264.3 L1606.0 1263.4 L1607.0 1262.9 L1608.0 1263.5 L1609.0 1264.5 L1610.0 1265.4 L1611.0 1266.2 L1612.0 1266.7 L1613.0 1267.0 L1614.0 1267.1 L1615.0 1266.1 L1616.0 1265.0 L1617.0 1265.6 L1618.0 1266.4 L1619.0 1266.7 L1620.0 1267.1 L1621.0 1266.6 L1622.0 1266.7 L1623.0 1268.1 L1624.0 1268.3 L1625.0 1268.0 L1626.0 1268.4 L1627.0 1268.5 L1628.0 1266.9 L1629.0 1265.2 L1630.0 1265.4 L1631.0 1265.9 L1632.0 1265.9 L1633.0 1266.8 L1634.0 1267.1 L1635.0 1265.7 L1636.0 1265.5 L1637.0 1266.3 L1638.0 1265.0 L1639.0 1263.7 L1640.0 1264.2 L1641.0 1264.0 L1642.0 1263.4 L1643.0 1263.1 L1644.0 1262.1 L1645.0 1261.2 L1646.0 1261.5 L1647.0 1261.3 L1648.0 1260.3 L1649.0 1259.8 L1650.0 1260.3 L1651.0 1260.4 L1652.0 1259.0 L1653.0 1258.1 L1654.0 1257.2 L1655.0 1256.2 L1656.0 1256.2 L1657.0 1256.1 L1658.0 1255.4 L1659.0 1253.8 L1660.0 1252.1 L1661.0 1251.5 L1662.0 1251.6 L1663.0 1251.6 L1664.0 1251.2 L1665.0 1250.2 L1666.0 1249.8 L1667.0 1249.1 L1668.0 1246.9 L1669.0 1244.6 L1670.0 1243.4 L1671.0 1243.7 L1672.0 1244.3 L1673.0 1243.7 L1674.0 1243.4 L1675.0 1243.5 L1676.0 1243.3 L1677.0 1242.2 L1678.0 1240.6 L1679.0 1239.7 L1680.0 1239.5 L1681.0 1239.1 L1682.0 1238.5 L1683.0 1239.0 L1684.0 1239.0 L1685.0 1237.7 L1686.0 1237.4 L1687.0 1237.6 L1688.0 1238.2 L1689.0 1238.7 L1690.0 1238.6 L1691.0 1238.0 L1692.0 1237.6 L1693.0 1238.2 L1694.0 1238.4 L1695.0 1238.6 L1696.0 1237.8 L1697.0 1236.3 L1698.0 1237.0 L1699.0 1239.0 L1700.0 1239.9 L1701.0 1239.5 L1702.0 1238.3 L1703.0 1238.1 L1704.0 1239.7 L1705.0 1240.3 L1706.0 1238.9 L1707.0 1237.5 L1708.0 1237.1 L1709.0 1239.0 L1710.0 1240.4 L1711.0 1239.7 L1712.0 1238.9 L1713.0 1237.9 L1714.0 1237.2 L1715.0 1237.3 L1716.0 1236.6 L1717.0 1236.5 L1718.0 1237.5 L1719.0 1238.0 L1720.0 1237.9 L1721.0 1237.4 L1722.0 1236.4 L1723.0 1236.3 L1724.0 1237.1 L1725.0 1237.1 L1726.0 1236.7 L1727.0 1237.3 L1728.0 1237.9 L1729.0 1237.9 L1730.0 1238.3 L1731.0 1239.7 L1732.0 1241.7 L1733.0 1244.0 L1734.0 1244.8 L1735.0 1243.9 L1736.0 1244.7 L1737.0 1246.7 L1738.0 1247.4 L1739.0 1248.6 L1740.0 1250.2 L1741.0 1250.1 L1742.0 1249.5 L1743.0 1250.6 L1744.0 1252.7 L1745.0 1253.5 L1746.0 1253.2 L1747.0 1254.2 L1748.0 1256.3 L1749.0 1257.2 L1750.0 1257.4 L1751.0 1258.6 L1752.0 1258.7 L1753.0 1258.0 L1754.0 1259.0 L1755.0 1260.2 L1756.0 1259.5 L1757.0 1259.0 L1758.0 1260.5 L1759.0 1262.6 L1760.0 1262.4 L1761.0 1261.9 L1762.0 1262.8 L1763.0 1262.7 L1764.0 1263.0 L1765.0 1264.0 L1766.0 1263.6 L1767.0 1262.3 L1768.0 1261.7 L1769.0 1261.9 L1770.0 1260.8 L1771.0 1260.8 L1772.0 1263.2 L1773.0 1263.9 L1774.0 1262.7 L1775.0 1261.8 L1776.0 1262.4 L1777.0 1263.1 L1778.0 1262.3 L1779.0 1260.4 L1780.0 1259.0 L1781.0 1258.3 L1782.0 1257.1 L1783.0 1257.1 L1784.0 1258.0 L1785.0 1257.8 L1786.0 1257.8 L1787.0 1258.6 L1788.0 1259.6 L1789.0 1259.1 L1790.0 1258.0 L1791.0 1257.4 L1792.0 1256.2 L1793.0 1255.9 L1794.0 1255.9 L1795.0 1254.9 L1796.0 1254.1 L1797.0 1253.9 L1798.0 1254.9 L1799.0 1255.4 L1800.0 1254.3 L1801.0 1253.4 L1802.0 1252.6 L1803.0 1251.7 L1804.0 1252.3 L1805.0 1254.4 L1806.0 1255.2 L1807.0 1253.4 L1808.0 1252.2 L1809.0 1252.2 L1810.0 1252.2 L1811.0 1252.3 L1812.0 1252.2 L1813.0 1252.0 L1814.0 1251.6 L1815.0 1250.8 L1816.0 1249.9 L1817.0 1249.4 L1818.0 1249.4 L1819.0 1249.5 L1820.0 1249.7 L1821.0 1249.9 L1822.0 1250.5 L1823.0 1250.4 L1824.0 1249.4 L1825.0 1249.1 L1826.0 1249.8 L1827.0 1251.4 L1828.0 1252.4 L1829.0 1251.7 L1830.0 1251.2 L1831.0 1251.0 L1832.0 1250.6 L1833.0 1250.9 L1834.0 1249.6 L1835.0 1249.3 L1836.0 1252.1 L1837.0 1252.4 L1838.0 1250.4 L1839.0 1250.2 L1840.0 1250.4 L1841.0 1249.8 L1842.0 1248.9 L1843.0 1249.2 L1844.0 1250.2 L1845.0 1250.6 L1846.0 1250.6 L1847.0 1250.8 L1848.0 1250.6 L1849.0 1249.3 L1850.0 1247.7 L1851.0 1246.3 L1852.0 1246.6 L1853.0 1247.5 L1854.0 1246.8 L1855.0 1246.4 L1856.0 1245.6 L1857.0 1244.4 L1858.0 1243.9 L1859.0 1243.4 L1860.0 1243.2 L1861.0 1243.5 L1862.0 1242.7 L1863.0 1240.9 L1864.0 1240.0 L1865.0 1239.9 L1866.0 1239.7 L1867.0 1240.3 L1868.0 1240.5 L1869.0 1238.8 L1870.0 1236.7 L1871.0 1235.3 L1872.0 1234.0 L1873.0 1233.0 L1874.0 1232.5 L1875.0 1232.3 L1876.0 1232.4 L1877.0 1232.3 L1878.0 1231.4 L1879.0 1230.2 L1880.0 1230.1 L1881.0 1231.0 L1882.0 1231.3 L1883.0 1231.0 L1884.0 1230.7 L1885.0 1229.8 L1886.0 1228.8 L1887.0 1229.4 L1888.0 1229.5 L1889.0 1228.0 L1890.0 1228.3 L1891.0 1229.0 L1892.0 1228.2 L1893.0 1228.1 L1894.0 1227.8 L1895.0 1226.9 L1896.0 1226.5 L1897.0 1226.1 L1898.0 1225.9 L1899.0 1226.3 L1900.0 1226.9 L1901.0 1227.6 L1902.0 1227.5 L1903.0 1227.8 L1904.0 1229.6 L1905.0 1230.5 L1906.0 1229.9 L1907.0 1229.4 L1908.0 1229.9 L1909.0 1231.0 L1910.0 1230.9 L1911.0 1230.9 L1912.0 1233.4 L1913.0 1234.9 L1914.0 1233.9 L1915.0 1234.8 L1916.0 1236.0 L1917.0 1236.7 L1918.0 1237.5 L1919.0 1237.5 L1920.0 1238.9 L1921.0 1240.7 L1922.0 1240.7 L1923.0 1241.0 L1924.0 1242.0 L1925.0 1243.4 L1926.0 1244.7 L1927.0 1245.1 L1928.0 1245.6 L1929.0 1246.3 L1930.0 1247.5 L1931.0 1247.5 L1932.0 1247.1 L1933.0 1248.5 L1934.0 1249.7 L1935.0 1251.3 L1936.0 1252.7 L1937.0 1252.2 L1938.0 1252.8 L1939.0 1254.9 L1940.0 1256.0 L1941.0 1256.8 L1942.0 1256.5 L1943.0 1255.9 L1944.0 1257.1 L1945.0 1258.8 L1946.0 1259.1 L1947.0 1258.8 L1948.0 1258.8 L1949.0 1258.9 L1950.0 1259.7 L1951.0 1261.1 L1952.0 1260.4 L1953.0 1259.3 L1954.0 1260.1 L1955.0 1261.5 L1956.0 1261.8 L1957.0 1261.1 L1958.0 1260.8 L1959.0 1260.7 L1960.0 1259.9 L1961.0 1260.4 L1962.0 1261.8 L1963.0 1262.0 L1964.0 1262.6 L1965.0 1263.4 L1966.0 1263.1 L1967.0 1263.2 L1968.0 1264.1 L1969.0 1263.4 L1970.0 1262.5 L1971.0 1262.8 L1972.0 1262.5 L1973.0 1261.7 L1974.0 1261.8 L1975.0 1261.3 L1976.0 1260.5 L1977.0 1261.1 L1978.0 1261.6 L1979.0 1260.9 L1980.0 1260.3 L1981.0 1260.9 L1982.0 1261.7 L1983.0 1261.4 L1984.0 1261.1 L1985.0 1261.2 L1986.0 1260.8 L1987.0 1261.4 L1988.0 1262.1 L1989.0 1261.1 L1990.0 1261.1 L1991.0 1261.7 L1992.0 1261.2 L1993.0 1260.8 L1994.0 1261.5 L1995.0 1261.0 L1996.0 1259.3 L1997.0 1259.0 L1998.0 1259.3 L1999.0 1259.2 L2000.0 1259.3 L2001.0 1259.8 L2002.0 1260.2 L2003.0 1260.1 L2004.0 1260.5 L2005.0 1260.6 L2006.0 1260.1 L2007.0 1260.9 L2008.0 1261.9 L2009.0 1261.1 L2010.0 1260.0 L2011.0 1259.7 L2012.0 1259.7 L2013.0 1260.5 L2014.0 1260.8 L2015.0 1260.0 L2016.0 1260.3 L2017.0 1260.9 L2018.0 1260.4 L2019.0 1259.8 L2020.0 1259.2 L2021.0 1259.0 L2022.0 1260.3 L2023.0 1261.5 L2024.0 1260.5 L2025.0 1259.4 L2026.0 1259.5 L2027.0 1260.0 L2028.0 1260.6 L2029.0 1261.2 L2030.0 1261.7 L2031.0 1261.4 L2032.0 1261.2 L2033.0 1260.8 L2034.0 1259.8 L2035.0 1258.8 L2036.0 1259.0 L2037.0 1259.4 L2038.0 1258.5 L2039.0 1258.0 L2040.0 1259.0 L2041.0 1259.0 L2042.0 1258.5 L2043.0 1258.5 L2044.0 1258.7 L2045.0 1258.4 L2046.0 1257.4 L2047.0 1257.4 L2048.0 1258.2 L2049.0 1258.2 L2050.0 1257.5 L2051.0 1257.0 L2052.0 1256.8 L2053.0 1257.6 L2054.0 1257.8 L2055.0 1257.4 L2056.0 1258.1 L2057.0 1257.9 L2058.0 1257.0 L2059.0 1256.4 L2060.0 1254.9 L2061.0 1253.9 L2062.0 1254.3 L2063.0 1254.9 L2064.0 1255.1 L2065.0 1255.0 L2066.0 1254.4 L2067.0 1253.8 L2068.0 1254.1 L2069.0 1253.8 L2070.0 1253.6 L2071.0 1253.6 L2072.0 1252.9 L2073.0 1252.5 L2074.0 1252.9 L2075.0 1253.9 L2076.0 1254.6 L2077.0 1254.1 L2078.0 1252.9 L2079.0 1252.3 L2080.0 1252.7 L2081.0 1252.7 L2082.0 1252.5 L2083.0 1253.3 L2084.0 1253.0 L2085.0 1252.5 L2086.0 1253.5 L2087.0 1254.1 L2088.0 1254.1 L2089.0 1254.0 L2090.0 1253.9 L2091.0 1254.4 L2092.0 1254.3 L2093.0 1253.9 L2094.0 1254.1 L2095.0 1253.7 L2096.0 1252.8 L2097.0 1252.3 L2098.0 1252.9 L2099.0 1253.2 L2100.0 1252.8 L2101.0 1253.5 L2102.0 1254.1 L2103.0 1253.1 L2104.0 1252.1 L2105.0 1253.1 L2106.0 1254.1 L2107.0 1253.7 L2108.0 1253.1 L2109.0 1252.8 L2110.0 1253.9 L2111.0 1254.7 L2112.0 1254.5 L2113.0 1254.2 L2114.0 1254.9 L2115.0 1255.8 L2116.0 1255.7 L2117.0 1255.2 L2118.0 1256.0 L2119.0 1257.3 L2120.0 1256.3 L2121.0 1255.6 L2122.0 1255.9 L2123.0 1256.6 L2124.0 1258.3 L2125.0 1258.8 L2126.0 1257.0 L2127.0 1256.6 L2128.0 1258.5 L2129.0 1259.6 L2130.0 1259.7 L2131.0 1259.3 L2132.0 1258.3 L2133.0 1257.7 L2134.0 1257.2 L2135.0 1257.8 L2136.0 1259.1 L2137.0 1260.0 L2138.0 1260.8 L2139.0 1260.1 L2140.0 1259.4 L2141.0 1260.7 L2142.0 1261.6 L2143.0 1260.4 L2144.0 1259.4 L2145.0 1260.4 L2146.0 1261.1 L2147.0 1260.0 L2148.0 1259.9 L2149.0 1260.8 L2150.0 1260.4 L2151.0 1259.5 L2152.0 1259.5 L2153.0 1260.0 L2154.0 1260.6 L2155.0 1261.3 L2156.0 1261.9 L2157.0 1261.2 L2158.0 1260.1 L2159.0 1261.0 L2160.0 1262.0 L2161.0 1262.1 L2162.0 1261.8 L2163.0 1260.8 L2164.0 1260.7 L2165.0 1261.3 L2166.0 1260.1 L2167.0 1259.8 L2168.0 1261.2 L2169.0 1261.4 L2170.0 1260.7 L2171.0 1260.1 L2172.0 1259.9 L2173.0 1260.5 L2174.0 1261.5 L2175.0 1261.5 L2176.0 1261.0 L2177.0 1261.6 L2178.0 1261.5 L2179.0 1261.6 L2180.0 1262.8 L2181.0 1262.4 L2182.0 1262.4 L2183.0 1263.5 L2184.0 1263.2 L2185.0 1263.1 L2186.0 1264.1 L2187.0 1264.4 L2188.0 1264.1 L2189.0 1263.9 L2190.0 1264.0 L2191.0 1264.1 L2192.0 1263.7 L2193.0 1264.2 L2194.0 1265.5 L2195.0 1265.2 L2196.0 1265.4 L2197.0 1266.3 L2198.0 1265.3 L2199.0 1264.4 L2200.0 1264.5 L2201.0 1264.6 L2202.0 1265.7 L2203.0 1266.0 L2204.0 1264.8 L2205.0 1264.4 L2206.0 1265.0 L2207.0 1264.9 L2208.0 1264.7 L2209.0 1264.6 L2210.0 1263.9 L2211.0 1264.1 L2212.0 1264.9 L2213.0 1265.2 L2214.0 1265.2 L2215.0 1264.9 L2216.0 1265.5 L2217.0 1265.4 L2218.0 1264.6 L2219.0 1263.9 L2220.0 1264.4 L2221.0 1265.1 L2222.0 1265.1 L2223.0 1265.8 L2224.0 1266.9 L2225.0 1267.5 L2226.0 1267.2 L2227.0 1265.7 L2228.0 1265.2 L2229.0 1266.2 L2230.0 1266.7 L2231.0 1266.7 L2232.0 1266.6 L2233.0 1266.9 L2234.0 1267.0 L2235.0 1266.7 L2236.0 1266.4 L2237.0 1266.2 L2238.0 1266.0 L2239.0 1266.2 L2240.0 1266.2 L2241.0 1266.2 L2242.0 1266.6 L2243.0 1266.4 L2244.0 1266.1 L2245.0 1265.7 L2246.0 1266.0 L2247.0 1266.7 L2248.0 1265.4 L2249.0 1264.0 L2250.0 1264.2 L2251.0 1265.6 L2252.0 1266.8 L2253.0 1266.5 L2254.0 1265.5 L2255.0 1264.8 L2256.0 1265.2 L2257.0 1266.3 L2258.0 1266.3 L2259.0 1265.3 L2260.0 1265.1 L2261.0 1264.8 L2262.0 1264.0 L2263.0 1264.1 L2264.0 1263.5 L2265.0 1262.6" fill="none" stroke="#ff0000" stroke-width="4.1" stroke-linejoin="round"/>
<path d="M384.0 1266.7 L385.0 1266.3 L386.0 1265.1 L387.0 1264.9 L388.0 1266.1 L389.0 1266.4 L390.0 1266.6 L391.0 1266.4 L392.0 1265.5 L393.0 1265.3 L394.0 1265.1 L395.0 1264.7 L396.0 1264.8 L397.0 1265.2 L398.0 1265.7 L399.0 1265.3 L400.0 1264.6 L401.0 1264.6 L402.0 1264.6 L403.0 1264.0 L404.0 1264.0 L405.0 1264.3 L406.0 1264.2 L407.0 1264.1 L408.0 1264.9 L409.0 1266.4 L410.0 1266.5 L411.0 1265.3 L412.0 1265.4 L413.0 1266.2 L414.0 1265.4 L415.0 1264.5 L416.0 1264.6 L417.0 1265.1 L418.0 1265.3 L419.0 1265.3 L420.0 1265.2 L421.0 1264.3 L422.0 1263.6 L423.0 1263.9 L424.0 1264.5 L425.0 1264.0 L426.0 1263.7 L427.0 1264.6 L428.0 1264.2 L429.0 1262.8 L430.0 1262.0 L431.0 1262.1 L432.0 1262.7 L433.0 1262.9 L434.0 1262.5 L435.0 1262.2 L436.0 1262.1 L437.0 1262.4 L438.0 1263.6 L439.0 1263.4 L440.0 1261.9 L441.0 1261.8 L442.0 1262.6 L443.0 1262.5 L444.0 1262.1 L445.0 1261.8 L446.0 1262.0 L447.0 1262.7 L448.0 1262.8 L449.0 1262.5 L450.0 1262.5 L451.0 1261.7 L452.0 1261.3 L453.0 1262.2 L454.0 1262.6 L455.0 1262.5 L456.0 1263.2 L457.0 1262.9 L458.0 1261.3 L459.0 1261.5 L460.0 1263.3 L461.0 1263.2 L462.0 1261.3 L463.0 1260.3 L464.0 1260.5 L465.0 1260.4 L466.0 1260.1 L467.0 1260.3 L468.0 1259.8 L469.0 1260.0 L469.6 1260.9 L470.0 1260.7 L471.0 1260.8 L472.0 1261.7 L473.0 1261.8 L474.0 1261.2 L475.0 1260.7 L476.0 1261.2 L477.0 1262.3 L478.0 1261.7 L479.0 1260.3 L480.0 1260.7 L481.0 1261.5 L482.0 1262.0 L483.0 1262.6 L484.0 1261.9 L485.0 1260.4 L486.0 1259.5 L487.0 1259.2 L488.0 1259.8 L489.0 1261.1 L490.0 1261.9 L491.0 1260.0 L492.0 1257.8 L493.0 1258.2 L494.0 1258.7 L495.0 1258.0 L496.0 1257.9 L497.0 1258.6 L498.0 1259.0 L499.0 1258.6 L500.0 1258.4 L501.0 1258.8 L502.0 1258.3 L503.0 1257.5 L504.0 1257.0 L505.0 1257.5 L506.0 1257.9 L507.0 1257.3 L508.0 1257.8 L509.0 1258.5 L510.0 1258.2 L511.0 1257.6 L512.0 1257.7 L513.0 1258.9 L514.0 1259.2 L515.0 1257.7 L516.0 1256.1 L517.0 1256.6 L518.0 1258.6 L519.0 1259.3 L520.0 1258.8 L521.0 1258.3 L522.0 1257.3 L523.0 1257.0 L524.0 1257.4 L525.0 1257.0 L526.0 1256.5 L527.0 1257.7 L528.0 1257.9 L529.0 1256.1 L530.0 1255.6 L531.0 1256.3 L532.0 1255.5 L533.0 1255.0 L534.0 1256.4 L535.0 1256.8 L536.0 1257.0 L537.0 1257.9 L538.0 1256.9 L539.0 1255.8 L540.0 1255.6 L541.0 1255.1 L542.0 1255.2 L543.0 1255.7 L544.0 1255.4 L545.0 1255.8 L546.0 1257.0 L547.0 1257.1 L548.0 1256.6 L549.0 1256.2 L550.0 1256.3 L551.0 1256.4 L552.0 1256.3 L553.0 1256.0 L554.0 1254.7 L555.0 1253.7 L556.0 1253.4 L557.0 1253.9 L558.0 1255.2 L559.0 1255.3 L560.0 1254.2 L561.0 1253.7 L562.0 1253.4 L563.0 1252.7 L564.0 1252.6 L565.0 1252.6 L566.0 1252.3 L567.0 1252.8 L568.0 1253.1 L569.0 1252.3 L570.0 1251.6 L571.0 1252.3 L572.0 1253.3 L573.0 1253.1 L574.0 1253.6 L575.0 1253.5 L576.0 1252.0 L577.0 1251.8 L578.0 1253.4 L579.0 1253.6 L580.0 1252.1 L581.0 1252.0 L582.0 1252.9 L583.0 1253.4 L584.0 1253.3 L585.0 1252.3 L586.0 1251.3 L587.0 1251.4 L588.0 1252.0 L588.6 1250.4 L589.0 1249.0 L590.0 1250.1 L591.0 1251.7 L592.0 1252.6 L593.0 1251.9 L594.0 1251.6 L595.0 1252.6 L596.0 1253.0 L597.0 1252.5 L598.0 1252.5 L599.0 1252.2 L600.0 1251.5 L601.0 1251.4 L602.0 1251.1 L603.0 1251.1 L604.0 1251.3 L605.0 1251.1 L606.0 1251.9 L607.0 1252.3 L608.0 1251.1 L609.0 1250.4 L610.0 1250.7 L611.0 1251.5 L612.0 1251.7 L613.0 1251.7 L614.0 1251.4 L615.0 1250.7 L616.0 1249.9 L617.0 1249.7 L618.0 1250.4 L619.0 1250.5 L620.0 1250.3 L621.0 1251.0 L622.0 1249.8 L623.0 1248.0 L624.0 1248.1 L625.0 1248.8 L626.0 1250.5 L627.0 1251.2 L628.0 1249.6 L629.0 1248.6 L630.0 1248.6 L631.0 1248.9 L632.0 1249.4 L633.0 1249.0 L634.0 1248.3 L635.0 1248.3 L636.0 1247.7 L637.0 1247.8 L638.0 1248.6 L639.0 1247.9 L640.0 1246.5 L641.0 1246.0 L642.0 1246.3 L643.0 1247.0 L644.0 1247.1 L645.0 1246.3 L646.0 1246.7 L647.0 1247.3 L648.0 1247.2 L649.0 1247.5 L650.0 1247.8 L651.0 1247.5 L652.0 1247.2 L653.0 1247.5 L654.0 1246.8 L655.0 1245.7 L656.0 1246.0 L657.0 1245.9 L658.0 1245.0 L659.0 1244.0 L660.0 1243.5 L661.0 1244.1 L662.0 1244.7 L663.0 1244.6 L664.0 1244.5 L665.0 1245.3 L666.0 1245.1 L667.0 1244.0 L668.0 1243.2 L669.0 1242.6 L670.0 1242.4 L671.0 1242.7 L672.0 1243.0 L673.0 1242.4 L674.0 1241.6 L675.0 1241.6 L676.0 1241.7 L677.0 1242.7 L678.0 1243.8 L679.0 1243.0 L680.0 1241.3 L681.0 1240.0 L682.0 1239.5 L682.2 1240.3 L683.0 1241.3 L684.0 1241.1 L685.0 1240.7 L686.0 1240.4 L687.0 1240.9 L688.0 1241.2 L689.0 1240.1 L690.0 1239.2 L691.0 1239.5 L692.0 1239.7 L693.0 1238.7 L694.0 1237.7 L695.0 1237.3 L696.0 1237.7 L697.0 1239.7 L698.0 1240.5 L699.0 1239.1 L700.0 1238.8 L701.0 1238.2 L702.0 1237.0 L703.0 1236.9 L704.0 1236.8 L705.0 1237.2 L706.0 1237.3 L707.0 1236.0 L708.0 1235.9 L709.0 1236.1 L710.0 1235.3 L711.0 1235.4 L712.0 1235.5 L713.0 1234.9 L714.0 1234.5 L715.0 1233.2 L716.0 1232.1 L717.0 1233.4 L718.0 1234.1 L719.0 1232.7 L720.0 1230.6 L721.0 1228.4 L722.0 1227.2 L723.0 1226.2 L724.0 1225.5 L725.0 1224.8 L726.0 1222.8 L727.0 1220.4 L728.0 1218.2 L729.0 1217.0 L730.0 1215.3 L731.0 1212.4 L732.0 1210.4 L733.0 1208.2 L734.0 1203.5 L735.0 1198.9 L736.0 1195.7 L737.0 1193.0 L738.0 1188.6 L739.0 1181.4 L740.0 1173.7 L741.0 1166.9 L742.0 1159.4 L743.0 1150.6 L744.0 1142.1 L745.0 1132.1 L746.0 1120.4 L747.0 1109.2 L748.0 1098.8 L749.0 1088.0 L750.0 1078.2 L751.0 1071.2 L751.8 1066.8 L752.0 1065.8 L753.0 1064.6 L754.0 1065.8 L755.0 1069.0 L756.0 1074.9 L757.0 1084.0 L758.0 1095.1 L759.0 1105.1 L760.0 1113.6 L761.0 1121.6 L762.0 1128.8 L763.0 1136.1 L764.0 1142.7 L765.0 1147.9 L766.0 1153.2 L767.0 1158.7 L768.0 1162.8 L769.0 1166.5 L770.0 1170.5 L771.0 1174.1 L772.0 1177.3 L773.0 1179.5 L774.0 1181.5 L775.0 1183.9 L776.0 1185.8 L777.0 1187.5 L778.0 1189.9 L779.0 1192.7 L780.0 1195.0 L781.0 1196.1 L782.0 1196.2 L783.0 1197.7 L784.0 1199.9 L785.0 1201.6 L786.0 1202.8 L787.0 1204.4 L788.0 1206.4 L789.0 1207.1 L790.0 1208.0 L791.0 1210.3 L792.0 1211.3 L793.0 1211.4 L794.0 1212.0 L795.0 1212.6 L796.0 1213.4 L797.0 1213.2 L798.0 1212.7 L799.0 1212.8 L800.0 1213.0 L801.0 1213.5 L802.0 1213.6 L803.0 1213.0 L804.0 1211.0 L805.0 1209.4 L806.0 1209.7 L807.0 1209.8 L808.0 1210.3 L809.0 1210.6 L810.0 1209.1 L811.0 1207.3 L812.0 1206.0 L813.0 1204.6 L814.0 1202.7 L815.0 1200.4 L816.0 1198.6 L817.0 1196.8 L818.0 1193.7 L819.0 1189.5 L820.0 1184.2 L821.0 1178.2 L822.0 1171.7 L823.0 1164.6 L824.0 1156.2 L825.0 1146.0 L826.0 1134.8 L827.0 1124.4 L828.0 1114.3 L829.0 1102.6 L830.0 1091.7 L831.0 1082.8 L832.0 1074.0 L833.0 1065.6 L834.0 1060.1 L834.8 1057.9 L835.0 1057.0 L836.0 1054.5 L837.0 1054.0 L838.0 1055.4 L839.0 1060.0 L840.0 1067.1 L841.0 1074.6 L842.0 1081.5 L843.0 1088.5 L844.0 1096.4 L845.0 1104.2 L846.0 1111.2 L847.0 1118.0 L848.0 1123.6 L849.0 1126.5 L850.0 1125.4 L851.0 1121.8 L852.0 1116.2 L853.0 1109.1 L854.0 1101.8 L855.0 1092.6 L856.0 1080.0 L857.0 1064.0 L858.0 1045.1 L859.0 1023.8 L860.0 1000.8 L861.0 975.0 L862.0 946.3 L863.0 917.0 L864.0 888.8 L865.0 862.6 L866.0 837.3 L867.0 813.6 L868.0 795.0 L868.8 785.3 L869.0 784.2 L870.0 779.8 L871.0 782.5 L872.0 791.4 L873.0 805.4 L874.0 823.4 L875.0 842.9 L876.0 862.6 L877.0 881.7 L878.0 899.3 L879.0 914.1 L880.0 925.0 L881.0 932.0 L882.0 934.5 L883.0 933.7 L884.0 930.1 L885.0 922.7 L886.0 913.1 L887.0 900.8 L888.0 886.2 L889.0 872.8 L890.0 860.5 L891.0 849.0 L892.0 840.3 L893.0 835.1 L893.8 832.9 L894.0 832.3 L895.0 833.1 L896.0 837.7 L897.0 846.0 L898.0 858.4 L899.0 874.0 L900.0 891.4 L901.0 910.3 L902.0 931.1 L903.0 953.6 L904.0 975.7 L905.0 996.4 L906.0 1016.6 L907.0 1037.1 L908.0 1055.4 L909.0 1070.0 L910.0 1083.4 L911.0 1094.7 L912.0 1104.0 L913.0 1113.7 L914.0 1122.5 L915.0 1129.6 L916.0 1134.5 L917.0 1138.4 L918.0 1142.8 L919.0 1146.5 L920.0 1149.2 L921.0 1151.5 L922.0 1153.4 L923.0 1156.2 L924.0 1159.6 L925.0 1161.9 L926.0 1162.7 L927.0 1163.4 L928.0 1164.8 L929.0 1166.1 L930.0 1167.0 L931.0 1166.8 L932.0 1166.0 L933.0 1165.9 L934.0 1165.8 L935.0 1165.4 L936.0 1164.4 L937.0 1162.3 L938.0 1160.5 L939.0 1159.4 L940.0 1158.4 L941.0 1158.0 L942.0 1156.5 L943.0 1154.4 L944.0 1153.7 L945.0 1152.3 L946.0 1150.1 L947.0 1148.4 L948.0 1145.0 L949.0 1140.1 L950.0 1136.3 L951.0 1131.7 L952.0 1125.8 L953.0 1118.4 L954.0 1109.0 L955.0 1098.4 L956.0 1086.6 L957.0 1073.2 L958.0 1057.7 L959.0 1039.6 L960.0 1020.6 L961.0 1000.8 L962.0 978.8 L963.0 955.1 L964.0 930.7 L965.0 908.0 L966.0 887.3 L967.0 868.1 L968.0 851.6 L969.0 838.8 L970.0 829.3 L970.6 825.5 L971.0 824.3 L972.0 824.0 L973.0 828.2 L974.0 837.5 L975.0 850.4 L976.0 866.3 L977.0 885.6 L978.0 907.7 L979.0 931.2 L980.0 954.7 L981.0 978.1 L982.0 1001.0 L983.0 1022.9 L984.0 1043.3 L985.0 1060.6 L986.0 1076.5 L987.0 1092.5 L988.0 1105.2 L989.0 1115.2 L990.0 1124.5 L991.0 1133.5 L992.0 1141.6 L993.0 1146.5 L994.0 1150.1 L995.0 1154.9 L996.0 1159.6 L997.0 1163.2 L998.0 1164.5 L999.0 1166.2 L1000.0 1170.0 L1001.0 1173.1 L1002.0 1174.6 L1003.0 1176.6 L1004.0 1180.5 L1005.0 1183.2 L1006.0 1184.2 L1007.0 1186.4 L1008.0 1189.2 L1009.0 1191.8 L1010.0 1192.9 L1011.0 1193.7 L1012.0 1195.7 L1013.0 1196.7 L1014.0 1197.4 L1015.0 1198.6 L1016.0 1198.7 L1017.0 1199.7 L1018.0 1202.0 L1019.0 1202.3 L1020.0 1202.2 L1021.0 1202.7 L1022.0 1202.3 L1023.0 1202.5 L1024.0 1203.6 L1025.0 1204.5 L1026.0 1205.6 L1027.0 1206.3 L1028.0 1206.1 L1029.0 1206.5 L1030.0 1206.5 L1031.0 1205.9 L1032.0 1205.9 L1033.0 1206.4 L1034.0 1207.3 L1035.0 1207.4 L1036.0 1206.4 L1037.0 1205.8 L1038.0 1206.0 L1039.0 1206.5 L1040.0 1206.9 L1041.0 1206.5 L1042.0 1206.3 L1043.0 1207.2 L1044.0 1207.2 L1045.0 1206.7 L1046.0 1206.9 L1047.0 1206.4 L1048.0 1205.9 L1049.0 1205.8 L1050.0 1205.3 L1051.0 1205.2 L1052.0 1206.1 L1053.0 1207.3 L1054.0 1207.1 L1055.0 1206.4 L1056.0 1206.4 L1057.0 1205.9 L1058.0 1205.6 L1059.0 1205.8 L1060.0 1206.2 L1061.0 1206.6 L1062.0 1205.1 L1063.0 1203.9 L1064.0 1204.5 L1065.0 1204.0 L1066.0 1202.2 L1067.0 1201.5 L1068.0 1203.3 L1069.0 1204.4 L1070.0 1204.1 L1071.0 1204.3 L1072.0 1204.0 L1073.0 1203.0 L1074.0 1202.2 L1075.0 1201.2 L1076.0 1201.0 L1077.0 1201.5 L1078.0 1199.9 L1079.0 1197.3 L1080.0 1194.7 L1081.0 1190.9 L1082.0 1187.2 L1082.6 1186.3 L1083.0 1185.3 L1084.0 1184.4 L1085.0 1186.6 L1086.0 1189.1 L1087.0 1189.9 L1088.0 1191.6 L1089.0 1193.7 L1090.0 1193.6 L1091.0 1192.4 L1092.0 1192.0 L1093.0 1192.1 L1094.0 1191.5 L1095.0 1189.6 L1096.0 1188.5 L1097.0 1189.0 L1098.0 1188.6 L1099.0 1186.6 L1100.0 1184.8 L1101.0 1183.7 L1102.0 1182.6 L1103.0 1180.6 L1104.0 1177.8 L1105.0 1175.4 L1106.0 1172.2 L1107.0 1167.9 L1108.0 1163.2 L1109.0 1156.5 L1110.0 1147.3 L1111.0 1135.5 L1112.0 1121.4 L1113.0 1108.4 L1114.0 1099.5 L1114.2 1098.5 L1115.0 1096.8 L1116.0 1098.8 L1117.0 1105.8 L1118.0 1117.2 L1119.0 1130.7 L1120.0 1144.2 L1121.0 1154.6 L1122.0 1163.1 L1123.0 1170.7 L1124.0 1175.8 L1125.0 1180.8 L1126.0 1186.3 L1127.0 1189.2 L1128.0 1190.8 L1129.0 1193.2 L1130.0 1195.1 L1131.0 1196.1 L1132.0 1196.5 L1133.0 1196.0 L1134.0 1196.8 L1135.0 1199.4 L1136.0 1200.8 L1137.0 1200.5 L1138.0 1200.4 L1139.0 1200.3 L1140.0 1200.9 L1141.0 1202.2 L1142.0 1202.6 L1143.0 1202.4 L1144.0 1202.7 L1145.0 1203.1 L1146.0 1203.2 L1147.0 1202.6 L1148.0 1202.1 L1149.0 1203.3 L1150.0 1204.3 L1151.0 1203.2 L1152.0 1202.9 L1153.0 1203.9 L1154.0 1204.3 L1155.0 1203.2 L1156.0 1202.3 L1157.0 1202.4 L1158.0 1202.1 L1159.0 1202.3 L1160.0 1203.1 L1161.0 1203.4 L1162.0 1204.8 L1163.0 1206.0 L1164.0 1205.1 L1165.0 1203.5 L1166.0 1202.3 L1167.0 1201.7 L1168.0 1201.6 L1169.0 1201.6 L1170.0 1201.4 L1171.0 1201.6 L1172.0 1201.7 L1173.0 1201.0 L1174.0 1200.3 L1175.0 1200.7 L1176.0 1201.7 L1177.0 1202.3 L1178.0 1202.6 L1179.0 1202.2 L1180.0 1201.3 L1181.0 1200.5 L1182.0 1200.4 L1183.0 1201.6 L1184.0 1201.3 L1185.0 1199.1 L1186.0 1198.1 L1187.0 1197.6 L1188.0 1196.5 L1189.0 1196.6 L1190.0 1197.4 L1191.0 1196.8 L1192.0 1196.1 L1193.0 1195.7 L1194.0 1194.8 L1195.0 1194.2 L1196.0 1193.5 L1197.0 1192.9 L1198.0 1192.7 L1199.0 1192.7 L1200.0 1192.9 L1201.0 1192.6 L1202.0 1192.0 L1203.0 1190.9 L1204.0 1190.0 L1205.0 1188.9 L1206.0 1188.4 L1207.0 1189.4 L1208.0 1189.3 L1209.0 1188.8 L1210.0 1188.9 L1211.0 1188.5 L1212.0 1188.4 L1213.0 1188.8 L1214.0 1188.0 L1215.0 1187.4 L1216.0 1188.5 L1217.0 1188.3 L1218.0 1186.7 L1219.0 1185.3 L1220.0 1184.2 L1221.0 1184.4 L1222.0 1185.0 L1223.0 1184.0 L1224.0 1182.4 L1225.0 1182.3 L1226.0 1182.2 L1227.0 1180.0 L1228.0 1178.2 L1229.0 1177.4 L1230.0 1175.2 L1231.0 1172.0 L1232.0 1168.5 L1233.0 1165.0 L1234.0 1162.3 L1235.0 1159.9 L1236.0 1157.4 L1237.0 1154.6 L1238.0 1151.4 L1239.0 1147.8 L1240.0 1143.8 L1241.0 1139.1 L1242.0 1135.2 L1243.0 1132.8 L1244.0 1130.4 L1245.0 1128.2 L1246.0 1126.2 L1247.0 1124.0 L1248.0 1122.8 L1248.7 1123.1 L1249.0 1123.2 L1250.0 1122.7 L1251.0 1123.2 L1252.0 1123.3 L1253.0 1123.7 L1254.0 1126.2 L1255.0 1128.5 L1256.0 1129.8 L1257.0 1132.1 L1258.0 1135.0 L1259.0 1136.1 L1260.0 1137.2 L1261.0 1139.3 L1262.0 1139.9 L1263.0 1139.7 L1264.0 1140.1 L1265.0 1140.2 L1266.0 1139.1 L1267.0 1137.8 L1268.0 1135.9 L1269.0 1132.1 L1270.0 1128.6 L1271.0 1126.1 L1272.0 1122.8 L1273.0 1118.0 L1274.0 1112.9 L1275.0 1109.1 L1276.0 1105.8 L1277.0 1101.6 L1278.0 1097.1 L1279.0 1094.2 L1280.0 1092.1 L1280.4 1090.7 L1281.0 1091.1 L1282.0 1092.1 L1283.0 1092.3 L1284.0 1093.9 L1285.0 1097.6 L1286.0 1101.6 L1287.0 1105.1 L1288.0 1108.6 L1289.0 1113.9 L1290.0 1119.7 L1291.0 1124.2 L1292.0 1129.5 L1293.0 1136.3 L1294.0 1141.6 L1295.0 1144.2 L1296.0 1147.0 L1297.0 1151.7 L1298.0 1156.5 L1299.0 1160.9 L1300.0 1164.5 L1301.0 1166.5 L1302.0 1168.2 L1303.0 1170.0 L1304.0 1171.3 L1305.0 1172.6 L1306.0 1174.7 L1307.0 1177.0 L1308.0 1176.8 L1309.0 1175.3 L1310.0 1175.1 L1311.0 1175.2 L1312.0 1175.0 L1313.0 1175.3 L1314.0 1176.2 L1315.0 1176.9 L1316.0 1176.3 L1317.0 1175.2 L1318.0 1174.6 L1319.0 1174.7 L1320.0 1175.3 L1321.0 1175.9 L1322.0 1175.9 L1323.0 1175.4 L1324.0 1175.4 L1325.0 1174.9 L1326.0 1173.2 L1327.0 1171.3 L1328.0 1171.1 L1329.0 1172.2 L1330.0 1171.8 L1331.0 1169.8 L1332.0 1167.4 L1333.0 1164.3 L1334.0 1160.7 L1335.0 1157.5 L1336.0 1154.8 L1337.0 1151.8 L1337.6 1150.0 L1338.0 1149.7 L1339.0 1150.6 L1340.0 1151.8 L1341.0 1153.9 L1342.0 1157.5 L1343.0 1160.4 L1344.0 1163.6 L1345.0 1167.7 L1346.0 1170.3 L1347.0 1171.8 L1348.0 1173.2 L1349.0 1173.9 L1350.0 1174.3 L1351.0 1175.5 L1352.0 1177.2 L1353.0 1177.9 L1354.0 1178.8 L1355.0 1179.1 L1356.0 1179.2 L1357.0 1180.4 L1358.0 1181.5 L1359.0 1182.8 L1360.0 1183.6 L1361.0 1183.5 L1362.0 1183.1 L1363.0 1182.9 L1364.0 1183.4 L1365.0 1183.5 L1366.0 1183.2 L1367.0 1183.4 L1368.0 1183.9 L1369.0 1184.4 L1370.0 1184.5 L1371.0 1184.0 L1372.0 1184.2 L1373.0 1184.4 L1374.0 1183.7 L1375.0 1184.5 L1376.0 1185.1 L1377.0 1183.6 L1378.0 1184.1 L1379.0 1185.1 L1380.0 1185.5 L1381.0 1185.9 L1382.0 1185.2 L1383.0 1186.3 L1384.0 1187.7 L1385.0 1186.8 L1386.0 1185.9 L1387.0 1185.4 L1388.0 1185.3 L1389.0 1185.3 L1390.0 1184.8 L1391.0 1185.1 L1392.0 1185.4 L1393.0 1184.5 L1394.0 1184.3 L1395.0 1184.3 L1396.0 1184.2 L1397.0 1185.0 L1398.0 1184.5 L1399.0 1183.1 L1400.0 1183.0 L1401.0 1182.9 L1402.0 1182.7 L1403.0 1182.8 L1404.0 1182.9 L1405.0 1182.9 L1406.0 1182.7 L1407.0 1182.6 L1408.0 1182.5 L1409.0 1181.9 L1410.0 1180.9 L1411.0 1179.7 L1412.0 1179.5 L1413.0 1180.2 L1414.0 1181.1 L1415.0 1181.3 L1416.0 1180.2 L1417.0 1178.3 L1418.0 1177.1 L1419.0 1176.4 L1420.0 1176.1 L1421.0 1176.0 L1422.0 1174.5 L1423.0 1171.9 L1424.0 1171.0 L1425.0 1171.0 L1426.0 1169.4 L1427.0 1167.8 L1428.0 1166.6 L1429.0 1164.6 L1430.0 1162.5 L1431.0 1160.4 L1432.0 1158.9 L1433.0 1158.4 L1434.0 1157.1 L1435.0 1155.9 L1435.9 1156.0 L1436.0 1156.7 L1437.0 1156.4 L1438.0 1155.5 L1439.0 1155.2 L1440.0 1155.8 L1441.0 1156.8 L1442.0 1158.6 L1443.0 1160.4 L1444.0 1162.1 L1445.0 1164.2 L1446.0 1165.2 L1447.0 1165.8 L1448.0 1166.6 L1449.0 1167.7 L1450.0 1169.6 L1451.0 1170.3 L1452.0 1170.3 L1453.0 1171.8 L1454.0 1173.2 L1455.0 1173.8 L1456.0 1173.6 L1457.0 1172.6 L1458.0 1173.6 L1459.0 1175.7 L1460.0 1175.3 L1461.0 1174.4 L1462.0 1175.1 L1463.0 1174.9 L1464.0 1173.5 L1465.0 1173.0 L1466.0 1174.1 L1467.0 1175.7 L1468.0 1176.2 L1469.0 1176.1 L1470.0 1176.6 L1471.0 1176.0 L1472.0 1174.7 L1473.0 1174.8 L1474.0 1174.9 L1475.0 1174.6 L1476.0 1175.0 L1477.0 1175.4 L1478.0 1174.8 L1479.0 1174.1 L1480.0 1175.1 L1481.0 1176.0 L1482.0 1174.2 L1483.0 1173.1 L1484.0 1174.2 L1485.0 1174.9 L1486.0 1174.1 L1487.0 1173.3 L1488.0 1173.4 L1489.0 1172.4 L1490.0 1171.3 L1491.0 1171.4 L1492.0 1171.9 L1493.0 1172.2 L1494.0 1171.8 L1495.0 1171.2 L1496.0 1170.8 L1497.0 1170.3 L1498.0 1169.1 L1499.0 1167.0 L1500.0 1166.1 L1501.0 1166.2 L1502.0 1164.9 L1503.0 1163.9 L1504.0 1163.0 L1505.0 1161.3 L1506.0 1160.2 L1507.0 1158.1 L1508.0 1154.8 L1509.0 1153.8 L1510.0 1152.2 L1511.0 1147.6 L1512.0 1143.0 L1513.0 1139.5 L1514.0 1134.6 L1515.0 1127.7 L1516.0 1121.4 L1517.0 1115.5 L1518.0 1108.8 L1519.0 1101.5 L1520.0 1093.6 L1521.0 1085.1 L1522.0 1076.6 L1523.0 1068.1 L1524.0 1060.1 L1525.0 1052.9 L1526.0 1045.6 L1527.0 1039.4 L1528.0 1034.8 L1529.0 1029.4 L1530.0 1025.2 L1531.0 1023.6 L1532.0 1022.5 L1533.0 1022.8 L1534.0 1024.4 L1535.0 1027.2 L1536.0 1030.9 L1537.0 1035.5 L1538.0 1042.4 L1539.0 1049.2 L1540.0 1055.0 L1541.0 1063.0 L1542.0 1071.6 L1543.0 1078.5 L1544.0 1087.0 L1545.0 1096.4 L1546.0 1104.1 L1547.0 1111.3 L1548.0 1117.3 L1549.0 1122.3 L1550.0 1127.7 L1551.0 1132.7 L1552.0 1136.9 L1553.0 1139.7 L1554.0 1142.0 L1555.0 1144.5 L1556.0 1146.9 L1557.0 1147.5 L1558.0 1147.0 L1559.0 1147.4 L1560.0 1148.1 L1561.0 1147.8 L1562.0 1147.1 L1563.0 1146.5 L1564.0 1146.4 L1565.0 1146.6 L1566.0 1145.9 L1567.0 1145.1 L1568.0 1144.2 L1569.0 1143.3 L1570.0 1142.6 L1571.0 1140.3 L1572.0 1136.8 L1573.0 1133.0 L1574.0 1129.6 L1575.0 1128.4 L1576.0 1127.8 L1577.0 1125.3 L1578.0 1122.1 L1579.0 1119.9 L1580.0 1117.5 L1581.0 1114.2 L1582.0 1111.6 L1582.8 1111.4 L1583.0 1112.3 L1584.0 1112.4 L1585.0 1112.4 L1586.0 1113.1 L1587.0 1115.8 L1588.0 1118.6 L1589.0 1121.1 L1590.0 1124.3 L1591.0 1127.2 L1592.0 1129.0 L1593.0 1130.7 L1594.0 1134.2 L1595.0 1138.8 L1596.0 1141.8 L1597.0 1143.4 L1598.0 1145.3 L1599.0 1147.5 L1600.0 1149.5 L1601.0 1150.8 L1602.0 1153.0 L1603.0 1155.7 L1604.0 1156.3 L1605.0 1155.9 L1606.0 1156.3 L1607.0 1158.0 L1608.0 1160.2 L1609.0 1161.1 L1610.0 1161.2 L1611.0 1161.5 L1612.0 1161.5 L1613.0 1162.1 L1614.0 1163.7 L1615.0 1165.0 L1616.0 1165.2 L1617.0 1164.0 L1618.0 1163.8 L1619.0 1164.5 L1620.0 1163.7 L1621.0 1162.6 L1622.0 1162.9 L1623.0 1163.8 L1624.0 1164.2 L1625.0 1164.3 L1626.0 1164.8 L1627.0 1164.8 L1628.0 1164.0 L1629.0 1163.3 L1630.0 1163.1 L1631.0 1163.5 L1632.0 1163.6 L1633.0 1163.0 L1634.0 1162.4 L1635.0 1161.3 L1636.0 1160.1 L1637.0 1160.4 L1638.0 1161.5 L1639.0 1162.0 L1640.0 1161.9 L1641.0 1161.2 L1642.0 1161.1 L1643.0 1161.3 L1644.0 1160.2 L1645.0 1158.7 L1646.0 1158.2 L1647.0 1157.8 L1648.0 1157.3 L1649.0 1157.7 L1650.0 1157.7 L1651.0 1157.3 L1652.0 1157.2 L1653.0 1155.9 L1654.0 1154.6 L1655.0 1153.8 L1656.0 1153.2 L1657.0 1152.9 L1658.0 1152.8 L1659.0 1152.5 L1660.0 1151.2 L1661.0 1149.1 L1662.0 1146.6 L1663.0 1144.2 L1664.0 1142.5 L1665.0 1140.8 L1666.0 1139.0 L1667.0 1136.7 L1668.0 1134.1 L1669.0 1130.5 L1670.0 1126.1 L1671.0 1121.5 L1672.0 1116.9 L1673.0 1112.4 L1674.0 1107.0 L1675.0 1100.9 L1676.0 1096.4 L1677.0 1091.8 L1678.0 1084.8 L1679.0 1077.9 L1680.0 1071.8 L1681.0 1067.0 L1682.0 1063.7 L1683.0 1060.0 L1684.0 1057.2 L1685.0 1056.4 L1685.2 1055.8 L1686.0 1053.3 L1687.0 1052.9 L1688.0 1053.7 L1689.0 1054.9 L1690.0 1056.9 L1691.0 1060.2 L1692.0 1064.4 L1693.0 1068.2 L1694.0 1072.3 L1695.0 1077.3 L1696.0 1081.7 L1697.0 1085.6 L1698.0 1090.1 L1699.0 1094.5 L1700.0 1097.4 L1701.0 1099.3 L1702.0 1101.2 L1703.0 1103.0 L1704.0 1104.6 L1705.0 1106.0 L1706.0 1105.9 L1707.0 1104.6 L1708.0 1104.5 L1709.0 1103.9 L1710.0 1101.1 L1711.0 1098.1 L1712.0 1095.2 L1713.0 1090.5 L1714.0 1085.2 L1715.0 1080.8 L1716.0 1077.1 L1717.0 1073.1 L1718.0 1068.0 L1719.0 1061.5 L1720.0 1055.1 L1721.0 1049.9 L1722.0 1045.5 L1723.0 1041.2 L1724.0 1037.5 L1725.0 1035.6 L1726.0 1034.4 L1726.2 1033.9 L1727.0 1032.6 L1728.0 1031.3 L1729.0 1031.2 L1730.0 1033.7 L1731.0 1037.5 L1732.0 1040.4 L1733.0 1043.5 L1734.0 1047.7 L1735.0 1052.5 L1736.0 1057.8 L1737.0 1062.5 L1738.0 1067.2 L1739.0 1072.6 L1740.0 1077.2 L1741.0 1081.6 L1742.0 1087.0 L1743.0 1092.9 L1744.0 1098.1 L1745.0 1102.3 L1746.0 1107.0 L1747.0 1111.5 L1748.0 1114.4 L1749.0 1117.6 L1750.0 1122.0 L1751.0 1125.3 L1752.0 1126.2 L1753.0 1126.9 L1754.0 1129.4 L1755.0 1132.2 L1756.0 1134.3 L1757.0 1135.4 L1758.0 1135.7 L1759.0 1136.6 L1760.0 1137.9 L1761.0 1139.1 L1762.0 1139.8 L1763.0 1139.9 L1764.0 1139.2 L1765.0 1138.5 L1766.0 1138.9 L1767.0 1139.5 L1768.0 1140.4 L1769.0 1142.0 L1770.0 1142.7 L1771.0 1141.5 L1772.0 1140.4 L1773.0 1140.4 L1774.0 1141.0 L1775.0 1141.8 L1776.0 1141.7 L1777.0 1140.8 L1778.0 1139.4 L1779.0 1138.0 L1780.0 1137.9 L1781.0 1138.3 L1782.0 1138.7 L1783.0 1138.3 L1784.0 1137.2 L1785.0 1137.5 L1786.0 1137.6 L1787.0 1135.9 L1788.0 1134.7 L1789.0 1134.4 L1790.0 1133.8 L1791.0 1133.5 L1792.0 1134.1 L1793.0 1133.3 L1794.0 1131.0 L1795.0 1130.2 L1796.0 1130.0 L1797.0 1129.0 L1798.0 1127.8 L1799.0 1127.1 L1800.0 1126.3 L1801.0 1124.5 L1802.0 1122.9 L1803.0 1121.6 L1804.0 1119.9 L1805.0 1118.3 L1806.0 1116.6 L1807.0 1114.0 L1808.0 1111.2 L1809.0 1108.0 L1810.0 1104.3 L1811.0 1100.7 L1812.0 1097.6 L1813.0 1094.4 L1814.0 1090.1 L1815.0 1085.8 L1816.0 1082.4 L1817.0 1077.7 L1818.0 1072.8 L1819.0 1069.1 L1820.0 1064.3 L1821.0 1059.3 L1822.0 1055.0 L1823.0 1050.0 L1824.0 1045.8 L1825.0 1042.4 L1826.0 1037.7 L1827.0 1034.4 L1828.0 1032.0 L1829.0 1029.0 L1830.0 1027.5 L1830.9 1028.0 L1831.0 1028.4 L1832.0 1026.5 L1833.0 1026.4 L1834.0 1027.8 L1835.0 1028.5 L1836.0 1029.9 L1837.0 1033.0 L1838.0 1036.4 L1839.0 1040.2 L1840.0 1044.5 L1841.0 1048.4 L1842.0 1052.0 L1843.0 1055.5 L1844.0 1059.1 L1845.0 1063.7 L1846.0 1068.3 L1847.0 1072.2 L1848.0 1075.8 L1849.0 1079.7 L1850.0 1084.6 L1851.0 1087.9 L1852.0 1089.1 L1853.0 1090.7 L1854.0 1092.9 L1855.0 1094.9 L1856.0 1095.7 L1857.0 1095.7 L1858.0 1095.8 L1859.0 1095.5 L1860.0 1095.1 L1861.0 1094.8 L1862.0 1093.9 L1863.0 1092.9 L1864.0 1091.9 L1865.0 1090.2 L1866.0 1087.9 L1867.0 1085.0 L1868.0 1081.5 L1869.0 1078.2 L1870.0 1074.5 L1871.0 1070.0 L1872.0 1065.4 L1873.0 1059.2 L1874.0 1051.8 L1875.0 1044.8 L1876.0 1037.6 L1877.0 1029.3 L1878.0 1019.4 L1879.0 1009.2 L1880.0 1000.6 L1881.0 991.9 L1882.0 981.8 L1883.0 972.3 L1884.0 963.3 L1885.0 955.1 L1886.0 949.7 L1887.0 945.7 L1887.9 942.8 L1888.0 942.6 L1889.0 940.5 L1890.0 940.3 L1891.0 942.3 L1892.0 946.9 L1893.0 952.8 L1894.0 958.6 L1895.0 965.1 L1896.0 972.7 L1897.0 982.1 L1898.0 991.9 L1899.0 1000.2 L1900.0 1008.8 L1901.0 1018.0 L1902.0 1027.1 L1903.0 1034.5 L1904.0 1039.9 L1905.0 1046.3 L1906.0 1051.9 L1907.0 1055.0 L1908.0 1058.6 L1909.0 1062.8 L1910.0 1065.4 L1911.0 1065.5 L1912.0 1066.4 L1913.0 1069.3 L1914.0 1070.8 L1915.0 1069.7 L1916.0 1069.6 L1917.0 1071.6 L1918.0 1072.9 L1919.0 1073.5 L1920.0 1073.8 L1921.0 1073.9 L1922.0 1075.4 L1923.0 1077.9 L1924.0 1078.5 L1925.0 1077.7 L1926.0 1079.8 L1927.0 1083.2 L1928.0 1084.0 L1929.0 1084.9 L1930.0 1087.5 L1931.0 1090.0 L1932.0 1092.0 L1933.0 1094.0 L1934.0 1096.2 L1935.0 1098.7 L1936.0 1101.1 L1937.0 1103.0 L1938.0 1105.4 L1939.0 1108.5 L1940.0 1111.5 L1941.0 1113.4 L1942.0 1115.0 L1943.0 1117.4 L1944.0 1119.7 L1945.0 1121.9 L1946.0 1124.0 L1947.0 1126.3 L1948.0 1127.5 L1949.0 1127.7 L1950.0 1128.8 L1951.0 1130.9 L1952.0 1132.1 L1953.0 1132.2 L1954.0 1131.9 L1955.0 1132.9 L1956.0 1135.5 L1957.0 1137.4 L1958.0 1137.6 L1959.0 1137.6 L1960.0 1138.6 L1961.0 1139.1 L1962.0 1139.7 L1963.0 1140.1 L1964.0 1139.6 L1965.0 1139.1 L1966.0 1138.8 L1967.0 1139.0 L1968.0 1139.8 L1969.0 1141.2 L1970.0 1142.2 L1971.0 1142.6 L1972.0 1142.2 L1973.0 1141.6 L1974.0 1141.7 L1975.0 1141.9 L1976.0 1142.3 L1977.0 1142.0 L1978.0 1141.2 L1979.0 1141.4 L1980.0 1141.7 L1981.0 1141.8 L1982.0 1142.8 L1983.0 1142.9 L1984.0 1141.6 L1985.0 1140.0 L1986.0 1139.2 L1987.0 1139.8 L1988.0 1139.5 L1989.0 1138.8 L1990.0 1139.9 L1991.0 1140.3 L1992.0 1139.3 L1993.0 1138.6 L1994.0 1138.6 L1995.0 1138.4 L1996.0 1137.4 L1997.0 1137.9 L1998.0 1138.8 L1999.0 1137.9 L2000.0 1136.7 L2001.0 1135.5 L2002.0 1134.3 L2003.0 1134.2 L2004.0 1133.7 L2005.0 1132.5 L2006.0 1132.5 L2007.0 1132.7 L2008.0 1130.9 L2009.0 1128.0 L2010.0 1126.1 L2011.0 1125.6 L2012.0 1125.9 L2013.0 1125.2 L2014.0 1123.1 L2015.0 1120.3 L2016.0 1118.3 L2017.0 1117.5 L2018.0 1115.9 L2019.0 1113.9 L2020.0 1112.7 L2021.0 1111.7 L2022.0 1109.5 L2023.0 1106.6 L2024.0 1104.8 L2025.0 1105.1 L2025.8 1105.5 L2026.0 1105.2 L2027.0 1104.5 L2028.0 1104.9 L2029.0 1106.0 L2030.0 1106.8 L2031.0 1107.3 L2032.0 1107.9 L2033.0 1109.5 L2034.0 1111.3 L2035.0 1112.3 L2036.0 1113.7 L2037.0 1116.6 L2038.0 1119.3 L2039.0 1121.1 L2040.0 1122.5 L2041.0 1123.0 L2042.0 1123.0 L2043.0 1123.4 L2044.0 1125.2 L2045.0 1127.2 L2046.0 1127.7 L2047.0 1127.9 L2048.0 1128.0 L2049.0 1127.4 L2050.0 1127.1 L2051.0 1127.3 L2052.0 1127.6 L2053.0 1127.4 L2054.0 1126.9 L2055.0 1125.9 L2056.0 1124.9 L2057.0 1124.2 L2058.0 1124.2 L2059.0 1123.8 L2060.0 1122.4 L2061.0 1123.1 L2062.0 1124.2 L2063.0 1122.2 L2064.0 1120.4 L2065.0 1120.8 L2066.0 1121.0 L2067.0 1119.9 L2068.0 1118.9 L2069.0 1117.6 L2070.0 1117.3 L2071.0 1117.3 L2072.0 1114.8 L2073.0 1111.8 L2074.0 1110.5 L2075.0 1109.9 L2076.0 1109.2 L2077.0 1108.4 L2077.4 1107.2 L2078.0 1106.3 L2079.0 1106.7 L2080.0 1107.0 L2081.0 1106.7 L2082.0 1106.6 L2083.0 1107.4 L2084.0 1108.6 L2085.0 1109.2 L2086.0 1109.7 L2087.0 1111.0 L2088.0 1111.7 L2089.0 1111.4 L2090.0 1111.4 L2091.0 1112.0 L2092.0 1111.6 L2093.0 1110.0 L2094.0 1109.1 L2095.0 1108.4 L2096.0 1108.1 L2097.0 1107.5 L2098.0 1105.7 L2099.0 1103.7 L2100.0 1102.5 L2101.0 1102.0 L2102.0 1100.5 L2103.0 1097.6 L2104.0 1094.1 L2105.0 1092.5 L2106.0 1092.2 L2107.0 1090.7 L2108.0 1089.2 L2109.0 1088.1 L2110.0 1087.1 L2110.8 1087.4 L2111.0 1087.7 L2112.0 1087.2 L2113.0 1087.0 L2114.0 1087.4 L2115.0 1088.3 L2116.0 1090.1 L2117.0 1092.0 L2118.0 1093.2 L2119.0 1094.5 L2120.0 1095.0 L2121.0 1095.9 L2122.0 1099.0 L2123.0 1101.9 L2124.0 1103.8 L2125.0 1105.6 L2126.0 1107.2 L2127.0 1110.1 L2128.0 1113.7 L2129.0 1116.1 L2130.0 1116.7 L2131.0 1118.4 L2132.0 1120.9 L2133.0 1122.7 L2134.0 1124.7 L2135.0 1125.3 L2136.0 1125.6 L2137.0 1127.9 L2138.0 1128.9 L2139.0 1128.6 L2140.0 1129.6 L2141.0 1130.6 L2142.0 1130.9 L2143.0 1130.0 L2144.0 1129.4 L2145.0 1130.8 L2146.0 1132.4 L2147.0 1133.3 L2148.0 1133.1 L2149.0 1131.7 L2150.0 1130.4 L2151.0 1129.7 L2152.0 1129.3 L2153.0 1128.9 L2154.0 1128.0 L2155.0 1127.2 L2156.0 1128.0 L2157.0 1129.4 L2158.0 1130.3 L2159.0 1129.0 L2160.0 1127.4 L2161.0 1126.6 L2162.0 1125.5 L2163.0 1124.4 L2164.0 1124.5 L2165.0 1125.8 L2166.0 1125.4 L2167.0 1123.8 L2168.0 1124.1 L2169.0 1124.8 L2170.0 1124.6 L2171.0 1123.7 L2172.0 1122.7 L2173.0 1122.6 L2173.4 1123.5 L2174.0 1123.8 L2175.0 1122.7 L2176.0 1122.8 L2177.0 1123.8 L2178.0 1124.1 L2179.0 1124.9 L2180.0 1125.6 L2181.0 1126.5 L2182.0 1127.5 L2183.0 1127.6 L2184.0 1127.2 L2185.0 1126.7 L2186.0 1127.4 L2187.0 1129.5 L2188.0 1131.3 L2189.0 1132.5 L2190.0 1133.1 L2191.0 1132.6 L2192.0 1132.7 L2193.0 1133.5 L2194.0 1133.7 L2195.0 1133.4 L2196.0 1134.0 L2197.0 1134.8 L2198.0 1135.1 L2199.0 1135.2 L2200.0 1135.6 L2201.0 1136.3 L2202.0 1136.6 L2203.0 1136.5 L2204.0 1136.0 L2205.0 1136.7 L2206.0 1137.7 L2207.0 1137.2 L2208.0 1136.9 L2209.0 1136.2 L2210.0 1135.5 L2211.0 1136.8 L2212.0 1137.2 L2213.0 1136.7 L2214.0 1136.7 L2215.0 1136.2 L2216.0 1135.8 L2217.0 1136.0 L2218.0 1136.9 L2219.0 1137.3 L2220.0 1136.2 L2221.0 1136.4 L2222.0 1136.2 L2223.0 1134.0 L2224.0 1133.8 L2225.0 1135.1 L2226.0 1135.4 L2227.0 1135.8 L2228.0 1135.9 L2229.0 1134.7 L2230.0 1132.8 L2231.0 1132.3 L2232.0 1133.3 L2233.0 1133.9 L2234.0 1134.2 L2235.0 1133.9 L2236.0 1133.6 L2237.0 1135.0 L2238.0 1135.4 L2239.0 1134.1 L2240.0 1132.6 L2241.0 1132.2 L2242.0 1132.3 L2243.0 1131.9 L2244.0 1131.8 L2245.0 1132.5 L2246.0 1132.8 L2247.0 1132.3 L2248.0 1132.2 L2249.0 1132.6 L2250.0 1131.1 L2251.0 1129.1 L2252.0 1129.6 L2253.0 1131.0 L2254.0 1131.2 L2255.0 1130.5 L2256.0 1129.6 L2257.0 1129.6 L2258.0 1129.8 L2259.0 1129.1 L2260.0 1128.3 L2261.0 1128.3 L2262.0 1128.6 L2263.0 1127.5 L2264.0 1126.8 L2265.0 1127.5" fill="none" stroke="#0000ff" stroke-width="4.1" stroke-linejoin="round"/>
<path d="M384.0 1147.7 L385.0 1148.0 L386.0 1148.4 L387.0 1148.7 L388.0 1148.2 L389.0 1147.2 L390.0 1146.5 L391.0 1146.7 L392.0 1147.7 L393.0 1148.1 L394.0 1147.7 L395.0 1146.3 L396.0 1145.7 L397.0 1146.9 L398.0 1147.0 L399.0 1146.5 L400.0 1146.6 L401.0 1146.8 L402.0 1146.2 L403.0 1145.6 L404.0 1146.1 L405.0 1145.8 L406.0 1146.0 L407.0 1147.1 L408.0 1146.8 L409.0 1145.2 L410.0 1144.5 L411.0 1145.3 L412.0 1145.9 L413.0 1145.2 L414.0 1144.4 L415.0 1144.1 L416.0 1144.3 L417.0 1145.2 L418.0 1146.1 L419.0 1145.8 L420.0 1145.0 L421.0 1145.1 L422.0 1145.2 L423.0 1144.7 L424.0 1145.2 L425.0 1146.1 L426.0 1145.7 L427.0 1145.1 L428.0 1144.6 L429.0 1143.9 L430.0 1143.4 L431.0 1144.2 L432.0 1145.7 L433.0 1146.3 L434.0 1145.8 L435.0 1144.9 L436.0 1144.1 L437.0 1143.6 L438.0 1143.8 L439.0 1143.9 L440.0 1143.8 L441.0 1143.8 L442.0 1142.8 L443.0 1141.9 L444.0 1141.8 L445.0 1141.7 L446.0 1142.4 L447.0 1143.5 L448.0 1143.6 L449.0 1143.6 L450.0 1144.3 L451.0 1144.0 L452.0 1143.5 L453.0 1143.7 L454.0 1143.5 L455.0 1143.0 L456.0 1142.6 L457.0 1141.7 L458.0 1141.6 L459.0 1142.4 L460.0 1142.7 L461.0 1142.3 L462.0 1142.4 L463.0 1143.2 L464.0 1143.6 L465.0 1143.4 L466.0 1142.9 L467.0 1142.0 L468.0 1141.7 L469.0 1141.8 L470.0 1141.5 L471.0 1141.8 L472.0 1142.4 L473.0 1141.6 L474.0 1140.9 L475.0 1141.9 L476.0 1142.6 L477.0 1142.2 L478.0 1141.8 L479.0 1141.0 L480.0 1140.3 L481.0 1140.3 L482.0 1141.1 L483.0 1141.5 L484.0 1141.1 L485.0 1141.0 L486.0 1140.4 L487.0 1140.3 L488.0 1141.0 L489.0 1141.0 L490.0 1140.1 L491.0 1139.3 L492.0 1139.5 L493.0 1140.3 L494.0 1141.1 L495.0 1140.6 L496.0 1139.5 L497.0 1138.9 L498.0 1138.6 L499.0 1138.9 L500.0 1139.6 L501.0 1139.7 L502.0 1139.3 L503.0 1138.8 L504.0 1139.0 L505.0 1139.4 L506.0 1138.2 L507.0 1137.6 L508.0 1138.2 L509.0 1138.0 L510.0 1138.3 L511.0 1138.8 L512.0 1138.6 L513.0 1138.5 L514.0 1138.7 L515.0 1139.4 L516.0 1139.3 L517.0 1138.2 L518.0 1137.5 L519.0 1137.5 L520.0 1138.1 L521.0 1138.1 L522.0 1137.5 L523.0 1137.4 L524.0 1136.8 L525.0 1136.0 L526.0 1136.7 L527.0 1138.1 L528.0 1138.1 L529.0 1137.2 L530.0 1137.1 L531.0 1136.9 L532.0 1136.0 L533.0 1137.0 L534.0 1138.1 L535.0 1137.2 L536.0 1136.8 L537.0 1136.8 L538.0 1136.3 L539.0 1136.6 L540.0 1137.1 L541.0 1136.9 L542.0 1136.5 L543.0 1136.2 L544.0 1136.3 L545.0 1136.7 L546.0 1137.2 L547.0 1136.8 L548.0 1135.2 L549.0 1134.5 L550.0 1135.7 L551.0 1136.1 L552.0 1134.7 L553.0 1133.7 L554.0 1134.5 L555.0 1135.4 L556.0 1134.9 L557.0 1134.8 L558.0 1135.7 L559.0 1136.1 L560.0 1135.5 L561.0 1134.9 L562.0 1135.2 L563.0 1136.2 L564.0 1136.1 L565.0 1134.7 L566.0 1133.7 L567.0 1134.1 L568.0 1134.6 L569.0 1134.7 L570.0 1135.1 L571.0 1135.2 L572.0 1135.0 L573.0 1135.1 L574.0 1134.6 L575.0 1133.8 L576.0 1134.5 L577.0 1135.1 L578.0 1133.8 L579.0 1133.4 L580.0 1133.9 L581.0 1132.9 L582.0 1131.2 L583.0 1130.3 L584.0 1130.3 L585.0 1130.1 L586.0 1129.1 L586.7 1128.2 L587.0 1127.7 L588.0 1127.1 L589.0 1127.6 L590.0 1128.6 L591.0 1130.2 L592.0 1131.9 L593.0 1132.4 L594.0 1132.5 L595.0 1133.1 L596.0 1132.7 L597.0 1132.2 L598.0 1132.2 L599.0 1132.1 L600.0 1132.7 L601.0 1133.1 L602.0 1133.1 L603.0 1133.0 L604.0 1132.8 L605.0 1132.2 L606.0 1131.8 L607.0 1131.9 L608.0 1131.8 L609.0 1131.8 L610.0 1132.2 L611.0 1131.8 L612.0 1130.7 L613.0 1130.5 L614.0 1131.4 L615.0 1132.2 L616.0 1132.4 L617.0 1132.7 L618.0 1132.8 L619.0 1132.2 L620.0 1131.2 L621.0 1130.3 L622.0 1130.1 L623.0 1130.6 L624.0 1131.1 L625.0 1131.1 L626.0 1130.8 L627.0 1130.8 L628.0 1131.0 L629.0 1130.9 L630.0 1130.7 L631.0 1130.4 L632.0 1129.6 L633.0 1129.4 L634.0 1130.0 L635.0 1130.2 L636.0 1129.6 L637.0 1130.0 L638.0 1130.6 L639.0 1129.6 L640.0 1129.1 L641.0 1129.0 L642.0 1128.6 L643.0 1129.3 L644.0 1130.4 L645.0 1130.2 L646.0 1129.7 L647.0 1129.3 L648.0 1129.2 L649.0 1129.1 L650.0 1128.5 L651.0 1128.1 L652.0 1128.5 L653.0 1128.9 L654.0 1128.9 L655.0 1128.0 L656.0 1127.4 L657.0 1128.8 L658.0 1130.1 L659.0 1129.3 L660.0 1127.7 L661.0 1127.2 L662.0 1127.3 L663.0 1127.3 L664.0 1127.5 L665.0 1127.7 L666.0 1128.2 L667.0 1127.8 L668.0 1126.5 L669.0 1126.5 L670.0 1126.3 L671.0 1125.6 L672.0 1125.9 L673.0 1126.6 L674.0 1126.4 L675.0 1125.6 L676.0 1126.2 L677.0 1126.4 L678.0 1124.7 L679.0 1122.6 L680.0 1120.0 L681.0 1117.5 L682.0 1115.8 L683.0 1114.3 L683.9 1113.9 L684.0 1114.4 L685.0 1113.7 L686.0 1114.2 L687.0 1115.7 L688.0 1116.5 L689.0 1118.1 L690.0 1120.4 L691.0 1122.4 L692.0 1123.9 L693.0 1125.1 L694.0 1126.5 L695.0 1127.1 L696.0 1126.4 L697.0 1125.9 L698.0 1126.2 L699.0 1126.0 L700.0 1125.3 L701.0 1125.6 L702.0 1126.0 L703.0 1126.1 L704.0 1126.4 L705.0 1125.8 L706.0 1124.5 L707.0 1123.9 L708.0 1123.7 L709.0 1123.5 L710.0 1123.3 L711.0 1123.4 L712.0 1123.4 L713.0 1122.8 L714.0 1121.5 L715.0 1120.9 L716.0 1121.4 L717.0 1121.1 L718.0 1120.6 L719.0 1120.1 L720.0 1119.7 L721.0 1119.4 L722.0 1118.5 L723.0 1117.2 L724.0 1115.8 L725.0 1115.4 L726.0 1114.8 L727.0 1113.9 L728.0 1113.4 L729.0 1113.4 L730.0 1112.6 L731.0 1110.8 L732.0 1110.0 L733.0 1110.1 L734.0 1110.0 L735.0 1109.3 L736.0 1108.5 L737.0 1108.0 L738.0 1108.0 L739.0 1107.5 L740.0 1106.0 L741.0 1104.0 L742.0 1101.1 L743.0 1096.7 L744.0 1087.4 L745.0 1070.4 L746.0 1043.0 L747.0 1001.7 L748.0 947.6 L749.0 883.6 L750.0 815.0 L751.0 750.8 L752.0 701.8 L752.5 685.7 L753.0 677.9 L754.0 682.5 L755.0 715.1 L756.0 770.7 L757.0 837.7 L758.0 904.0 L759.0 965.0 L760.0 1015.1 L761.0 1050.5 L762.0 1073.7 L763.0 1088.9 L764.0 1098.3 L765.0 1102.4 L766.0 1103.6 L767.0 1104.4 L768.0 1104.6 L769.0 1104.3 L770.0 1102.8 L771.0 1099.3 L772.0 1095.4 L773.0 1091.9 L774.0 1086.2 L775.0 1077.2 L776.0 1068.9 L776.7 1065.3 L777.0 1063.8 L778.0 1064.9 L779.0 1070.0 L780.0 1077.3 L781.0 1086.3 L782.0 1093.9 L783.0 1098.6 L784.0 1101.9 L785.0 1105.0 L786.0 1107.8 L787.0 1109.8 L788.0 1110.8 L789.0 1111.2 L790.0 1112.3 L791.0 1113.5 L792.0 1113.8 L793.0 1114.1 L794.0 1114.2 L795.0 1113.3 L796.0 1113.0 L797.0 1113.9 L798.0 1114.2 L799.0 1113.4 L800.0 1111.6 L801.0 1110.4 L802.0 1110.2 L803.0 1111.1 L804.0 1112.0 L805.0 1111.7 L806.0 1110.7 L807.0 1110.3 L808.0 1109.8 L809.0 1108.9 L810.0 1108.3 L811.0 1107.0 L812.0 1105.3 L813.0 1105.5 L814.0 1105.8 L815.0 1104.6 L816.0 1103.2 L817.0 1102.1 L818.0 1101.6 L819.0 1101.3 L820.0 1099.7 L821.0 1097.0 L822.0 1095.1 L823.0 1094.3 L824.0 1092.8 L825.0 1091.5 L826.0 1090.7 L827.0 1086.7 L828.0 1078.8 L829.0 1066.8 L830.0 1045.1 L831.0 1010.0 L832.0 960.7 L833.0 899.0 L834.0 833.7 L835.0 778.7 L835.7 755.3 L836.0 749.2 L837.0 749.1 L838.0 778.0 L839.0 828.5 L840.0 888.3 L841.0 945.9 L842.0 993.4 L843.0 1027.3 L844.0 1049.5 L845.0 1063.5 L846.0 1070.9 L847.0 1074.2 L848.0 1076.4 L849.0 1077.2 L850.0 1075.9 L851.0 1075.0 L852.0 1074.0 L853.0 1071.3 L854.0 1068.1 L855.0 1065.2 L856.0 1062.2 L857.0 1057.5 L858.0 1050.9 L859.0 1043.1 L860.0 1033.4 L861.0 1019.4 L862.0 1000.6 L863.0 977.4 L864.0 946.7 L865.0 904.4 L866.0 846.8 L867.0 771.1 L868.0 678.3 L869.0 581.3 L870.0 508.9 L870.3 498.3 L871.0 486.2 L872.0 511.3 L873.0 569.5 L874.0 648.6 L875.0 735.3 L876.0 814.5 L877.0 877.7 L878.0 924.6 L879.0 958.1 L880.0 981.0 L881.0 994.8 L882.0 1000.7 L883.0 998.4 L884.0 985.5 L885.0 959.6 L886.0 918.4 L887.0 859.6 L888.0 781.1 L889.0 683.4 L890.0 569.4 L891.0 445.8 L892.0 325.0 L893.0 223.2 L894.0 157.0 L894.0 156.8 L895.0 138.8 L896.0 167.8 L897.0 238.0 L898.0 339.5 L899.0 458.7 L900.0 580.9 L901.0 694.5 L902.0 792.3 L903.0 872.8 L904.0 935.8 L905.0 982.0 L906.0 1015.8 L907.0 1040.0 L908.0 1055.8 L909.0 1065.4 L910.0 1071.3 L911.0 1075.4 L912.0 1078.8 L913.0 1081.1 L914.0 1082.2 L915.0 1082.9 L916.0 1083.6 L917.0 1084.3 L918.0 1085.3 L919.0 1086.0 L920.0 1085.2 L921.0 1083.9 L922.0 1083.5 L923.0 1083.6 L924.0 1084.4 L925.0 1085.4 L926.0 1085.4 L927.0 1085.1 L928.0 1085.1 L929.0 1084.6 L930.0 1084.0 L931.0 1084.2 L932.0 1085.5 L933.0 1086.4 L934.0 1086.5 L935.0 1087.5 L936.0 1088.2 L937.0 1087.6 L938.0 1087.2 L939.0 1087.3 L940.0 1087.8 L941.0 1088.3 L942.0 1088.4 L943.0 1088.8 L944.0 1088.7 L945.0 1087.9 L946.0 1087.0 L947.0 1086.1 L948.0 1084.9 L949.0 1083.3 L950.0 1082.3 L951.0 1080.4 L952.0 1078.3 L953.0 1076.1 L954.0 1071.8 L955.0 1067.1 L956.0 1062.2 L957.0 1055.4 L958.0 1047.7 L959.0 1038.4 L960.0 1027.1 L961.0 1013.2 L962.0 995.0 L963.0 970.8 L964.0 938.2 L965.0 894.1 L966.0 833.7 L967.0 753.4 L968.0 652.3 L969.0 541.2 L970.0 453.6 L970.4 436.3 L971.0 423.8 L972.0 447.4 L973.0 503.6 L974.0 580.9 L975.0 671.6 L976.0 760.2 L977.0 834.1 L978.0 890.8 L979.0 933.4 L980.0 965.4 L981.0 988.7 L982.0 1005.9 L983.0 1019.6 L984.0 1030.7 L985.0 1040.2 L986.0 1048.2 L987.0 1053.7 L988.0 1058.0 L989.0 1063.0 L990.0 1067.8 L991.0 1071.5 L992.0 1074.2 L993.0 1076.1 L994.0 1078.4 L995.0 1080.6 L996.0 1082.7 L997.0 1084.9 L998.0 1086.2 L999.0 1087.1 L1000.0 1088.0 L1001.0 1088.3 L1002.0 1089.3 L1003.0 1091.1 L1004.0 1091.6 L1005.0 1091.3 L1006.0 1092.1 L1007.0 1093.8 L1008.0 1095.2 L1009.0 1095.7 L1010.0 1094.8 L1011.0 1093.9 L1012.0 1094.5 L1013.0 1095.5 L1014.0 1095.8 L1015.0 1095.6 L1016.0 1095.9 L1017.0 1096.9 L1018.0 1096.8 L1019.0 1095.5 L1020.0 1095.3 L1021.0 1096.1 L1022.0 1095.9 L1023.0 1096.3 L1024.0 1096.3 L1025.0 1095.1 L1026.0 1094.6 L1027.0 1094.8 L1028.0 1095.0 L1029.0 1095.5 L1030.0 1095.9 L1031.0 1095.3 L1032.0 1094.7 L1033.0 1094.7 L1034.0 1094.1 L1035.0 1094.3 L1036.0 1094.8 L1037.0 1093.7 L1038.0 1093.1 L1039.0 1093.1 L1040.0 1092.1 L1041.0 1092.0 L1042.0 1093.0 L1043.0 1092.8 L1044.0 1092.4 L1045.0 1092.3 L1046.0 1091.8 L1047.0 1091.9 L1048.0 1093.2 L1049.0 1094.4 L1050.0 1093.9 L1051.0 1092.6 L1052.0 1091.6 L1053.0 1091.3 L1054.0 1091.6 L1055.0 1092.0 L1056.0 1091.9 L1057.0 1091.6 L1058.0 1091.3 L1059.0 1090.5 L1060.0 1090.2 L1061.0 1090.4 L1062.0 1089.7 L1063.0 1089.2 L1064.0 1089.4 L1065.0 1089.4 L1066.0 1089.8 L1067.0 1089.9 L1068.0 1089.2 L1069.0 1088.4 L1070.0 1087.9 L1071.0 1086.8 L1072.0 1084.9 L1073.0 1083.2 L1074.0 1080.1 L1075.0 1075.3 L1076.0 1068.8 L1077.0 1059.2 L1078.0 1046.6 L1079.0 1030.1 L1080.0 1011.3 L1081.0 995.2 L1082.0 982.7 L1082.8 975.2 L1083.0 973.4 L1084.0 969.6 L1085.0 972.3 L1086.0 982.3 L1087.0 997.2 L1088.0 1012.9 L1089.0 1027.6 L1090.0 1041.3 L1091.0 1052.5 L1092.0 1060.5 L1093.0 1067.3 L1094.0 1073.1 L1095.0 1075.8 L1096.0 1076.6 L1097.0 1077.3 L1098.0 1076.9 L1099.0 1076.1 L1100.0 1076.6 L1101.0 1078.2 L1102.0 1079.7 L1103.0 1080.8 L1104.0 1080.6 L1105.0 1078.8 L1106.0 1076.3 L1107.0 1070.9 L1108.0 1056.7 L1109.0 1028.7 L1110.0 983.5 L1111.0 920.0 L1112.0 839.9 L1113.0 754.5 L1114.0 682.1 L1114.8 644.3 L1115.0 638.1 L1116.0 629.7 L1117.0 657.0 L1118.0 711.0 L1119.0 780.9 L1120.0 854.9 L1121.0 923.2 L1122.0 981.1 L1123.0 1024.6 L1124.0 1052.2 L1125.0 1068.0 L1126.0 1076.2 L1127.0 1079.6 L1128.0 1081.9 L1129.0 1083.5 L1130.0 1083.6 L1131.0 1083.3 L1132.0 1084.2 L1133.0 1084.7 L1134.0 1084.0 L1135.0 1083.3 L1136.0 1082.2 L1137.0 1082.2 L1138.0 1083.6 L1139.0 1084.2 L1140.0 1084.0 L1141.0 1083.8 L1142.0 1084.2 L1143.0 1085.4 L1144.0 1085.9 L1145.0 1084.7 L1146.0 1084.2 L1147.0 1085.6 L1148.0 1086.2 L1149.0 1086.1 L1150.0 1086.6 L1151.0 1087.2 L1152.0 1086.8 L1153.0 1085.7 L1154.0 1084.9 L1155.0 1085.0 L1156.0 1085.7 L1157.0 1086.2 L1158.0 1086.4 L1159.0 1086.6 L1160.0 1087.0 L1161.0 1086.3 L1162.0 1086.0 L1163.0 1086.2 L1164.0 1086.0 L1165.0 1086.7 L1166.0 1087.0 L1167.0 1087.1 L1168.0 1087.6 L1169.0 1087.2 L1170.0 1086.3 L1171.0 1085.3 L1172.0 1084.8 L1173.0 1085.3 L1174.0 1085.7 L1175.0 1086.0 L1176.0 1085.7 L1177.0 1084.5 L1178.0 1084.0 L1179.0 1084.9 L1180.0 1086.0 L1181.0 1085.7 L1182.0 1084.9 L1183.0 1085.1 L1184.0 1085.7 L1185.0 1085.7 L1186.0 1084.9 L1187.0 1084.6 L1188.0 1085.6 L1189.0 1086.1 L1190.0 1086.1 L1191.0 1086.0 L1192.0 1085.2 L1193.0 1084.9 L1194.0 1085.1 L1195.0 1084.8 L1196.0 1084.0 L1197.0 1083.3 L1198.0 1082.7 L1199.0 1082.5 L1200.0 1081.5 L1201.0 1080.1 L1202.0 1078.2 L1203.0 1075.1 L1204.0 1073.3 L1205.0 1072.2 L1206.0 1069.5 L1206.7 1068.3 L1207.0 1069.3 L1208.0 1069.0 L1209.0 1068.8 L1210.0 1070.1 L1211.0 1071.0 L1212.0 1072.4 L1213.0 1074.8 L1214.0 1076.5 L1215.0 1077.8 L1216.0 1079.1 L1217.0 1080.1 L1218.0 1081.2 L1219.0 1082.0 L1220.0 1082.3 L1221.0 1081.4 L1222.0 1080.3 L1223.0 1080.0 L1224.0 1080.8 L1225.0 1081.4 L1226.0 1080.3 L1227.0 1078.7 L1228.0 1077.5 L1229.0 1076.1 L1230.0 1074.9 L1231.0 1073.2 L1232.0 1071.3 L1233.0 1068.6 L1234.0 1065.0 L1235.0 1060.6 L1236.0 1055.2 L1237.0 1049.3 L1238.0 1043.3 L1239.0 1034.4 L1240.0 1020.6 L1241.0 1003.8 L1242.0 985.8 L1243.0 965.8 L1244.0 943.8 L1245.0 923.8 L1246.0 908.6 L1246.6 902.7 L1247.0 901.1 L1248.0 900.3 L1249.0 905.2 L1250.0 915.9 L1251.0 930.9 L1252.0 949.3 L1253.0 969.5 L1254.0 988.3 L1255.0 1004.5 L1256.0 1018.0 L1257.0 1029.2 L1258.0 1038.3 L1259.0 1045.3 L1260.0 1052.0 L1261.0 1057.9 L1262.0 1061.4 L1263.0 1063.2 L1264.0 1065.6 L1265.0 1068.6 L1266.0 1069.9 L1267.0 1069.6 L1268.0 1070.4 L1269.0 1072.3 L1270.0 1073.1 L1271.0 1073.1 L1272.0 1073.3 L1273.0 1073.9 L1274.0 1073.9 L1275.0 1071.2 L1276.0 1065.8 L1277.0 1057.7 L1278.0 1044.9 L1279.0 1024.4 L1280.0 996.6 L1281.0 964.4 L1282.0 930.4 L1283.0 899.8 L1284.0 877.5 L1284.2 874.2 L1285.0 867.3 L1286.0 870.1 L1287.0 884.8 L1288.0 907.5 L1289.0 934.0 L1290.0 962.6 L1291.0 990.0 L1292.0 1012.6 L1293.0 1031.5 L1294.0 1047.0 L1295.0 1057.1 L1296.0 1062.6 L1297.0 1064.9 L1298.0 1065.8 L1299.0 1067.0 L1300.0 1067.9 L1301.0 1067.6 L1302.0 1067.2 L1303.0 1067.0 L1304.0 1067.6 L1305.0 1068.9 L1306.0 1068.9 L1307.0 1067.9 L1308.0 1067.7 L1309.0 1068.4 L1310.0 1068.8 L1311.0 1068.4 L1312.0 1067.8 L1313.0 1067.1 L1314.0 1067.5 L1315.0 1068.9 L1316.0 1069.0 L1317.0 1067.8 L1318.0 1067.7 L1319.0 1068.3 L1320.0 1067.8 L1321.0 1067.4 L1322.0 1067.6 L1323.0 1067.6 L1324.0 1067.6 L1325.0 1066.7 L1326.0 1065.3 L1327.0 1064.3 L1328.0 1062.8 L1329.0 1060.1 L1330.0 1057.2 L1331.0 1052.1 L1332.0 1042.4 L1333.0 1028.3 L1334.0 1007.5 L1335.0 980.3 L1336.0 949.9 L1337.0 920.5 L1338.0 898.7 L1338.3 893.9 L1339.0 889.3 L1340.0 894.7 L1341.0 909.1 L1342.0 927.3 L1343.0 948.8 L1344.0 973.5 L1345.0 998.1 L1346.0 1019.6 L1347.0 1037.2 L1348.0 1049.4 L1349.0 1056.7 L1350.0 1062.4 L1351.0 1065.9 L1352.0 1067.3 L1353.0 1068.6 L1354.0 1069.7 L1355.0 1070.9 L1356.0 1071.5 L1357.0 1071.5 L1358.0 1072.2 L1359.0 1072.6 L1360.0 1072.5 L1361.0 1071.8 L1362.0 1070.5 L1363.0 1069.0 L1364.0 1067.1 L1365.0 1065.0 L1365.8 1063.8 L1366.0 1064.4 L1367.0 1065.2 L1368.0 1065.3 L1369.0 1064.7 L1370.0 1066.2 L1371.0 1068.2 L1372.0 1068.9 L1373.0 1070.8 L1374.0 1073.3 L1375.0 1073.7 L1376.0 1073.2 L1377.0 1074.1 L1378.0 1074.7 L1379.0 1074.2 L1380.0 1073.7 L1381.0 1073.1 L1382.0 1072.3 L1383.0 1072.5 L1384.0 1073.0 L1385.0 1073.5 L1386.0 1073.5 L1387.0 1071.9 L1388.0 1070.5 L1389.0 1071.2 L1390.0 1072.1 L1391.0 1072.1 L1392.0 1071.5 L1393.0 1071.4 L1394.0 1071.7 L1395.0 1071.4 L1396.0 1071.0 L1397.0 1070.2 L1398.0 1069.8 L1399.0 1069.4 L1400.0 1067.7 L1401.0 1067.5 L1401.6 1068.3 L1402.0 1068.5 L1403.0 1068.7 L1404.0 1068.5 L1405.0 1068.9 L1406.0 1069.8 L1407.0 1069.4 L1408.0 1068.6 L1409.0 1068.3 L1410.0 1068.8 L1411.0 1069.8 L1412.0 1070.0 L1413.0 1069.4 L1414.0 1069.1 L1415.0 1069.0 L1416.0 1068.3 L1417.0 1068.3 L1418.0 1068.4 L1419.0 1068.2 L1420.0 1068.0 L1421.0 1067.3 L1422.0 1066.8 L1423.0 1066.6 L1424.0 1064.7 L1425.0 1061.2 L1426.0 1056.6 L1427.0 1051.2 L1428.0 1044.7 L1429.0 1037.4 L1430.0 1029.1 L1431.0 1019.8 L1432.0 1011.7 L1433.0 1004.7 L1433.7 1000.4 L1434.0 1000.0 L1435.0 1000.5 L1436.0 1002.2 L1437.0 1005.8 L1438.0 1012.2 L1439.0 1019.2 L1440.0 1026.4 L1441.0 1034.8 L1442.0 1042.4 L1443.0 1047.7 L1444.0 1052.6 L1445.0 1057.5 L1446.0 1060.5 L1447.0 1062.4 L1448.0 1064.1 L1449.0 1065.4 L1450.0 1066.7 L1451.0 1067.4 L1452.0 1067.6 L1453.0 1066.9 L1454.0 1066.1 L1455.0 1066.3 L1456.0 1066.6 L1457.0 1067.1 L1458.0 1067.7 L1459.0 1066.6 L1460.0 1065.8 L1461.0 1066.6 L1462.0 1066.5 L1463.0 1065.8 L1464.0 1065.5 L1465.0 1065.9 L1466.0 1066.2 L1467.0 1065.9 L1468.0 1065.3 L1469.0 1065.5 L1470.0 1065.9 L1471.0 1064.7 L1472.0 1062.8 L1473.0 1062.9 L1474.0 1063.8 L1475.0 1064.2 L1476.0 1064.7 L1477.0 1065.1 L1478.0 1064.8 L1479.0 1064.2 L1480.0 1064.4 L1481.0 1064.7 L1482.0 1063.9 L1483.0 1064.0 L1484.0 1064.6 L1485.0 1063.3 L1486.0 1062.1 L1487.0 1062.4 L1488.0 1062.6 L1489.0 1062.8 L1490.0 1063.2 L1491.0 1062.8 L1492.0 1062.3 L1493.0 1062.5 L1494.0 1062.3 L1495.0 1061.8 L1496.0 1061.6 L1497.0 1061.2 L1498.0 1060.6 L1499.0 1060.2 L1500.0 1059.9 L1501.0 1059.1 L1502.0 1059.1 L1503.0 1059.8 L1504.0 1059.4 L1505.0 1058.6 L1506.0 1058.3 L1507.0 1058.0 L1508.0 1057.6 L1509.0 1056.8 L1510.0 1056.3 L1511.0 1056.0 L1512.0 1055.4 L1513.0 1054.3 L1514.0 1052.4 L1515.0 1051.6 L1516.0 1051.6 L1517.0 1049.8 L1518.0 1047.6 L1519.0 1045.0 L1520.0 1041.0 L1521.0 1034.6 L1522.0 1024.6 L1523.0 1010.2 L1524.0 988.7 L1525.0 957.9 L1526.0 915.8 L1527.0 863.8 L1528.0 805.9 L1529.0 746.6 L1530.0 696.1 L1530.8 669.9 L1531.0 668.7 L1532.0 662.2 L1533.0 674.4 L1534.0 700.3 L1535.0 735.8 L1536.0 778.9 L1537.0 826.1 L1538.0 873.5 L1539.0 915.7 L1540.0 951.6 L1541.0 982.0 L1542.0 1004.3 L1543.0 1020.3 L1544.0 1031.5 L1545.0 1038.4 L1546.0 1042.8 L1547.0 1045.3 L1548.0 1046.9 L1549.0 1048.5 L1550.0 1049.9 L1551.0 1051.5 L1552.0 1052.3 L1553.0 1052.4 L1554.0 1053.0 L1555.0 1053.3 L1556.0 1053.4 L1557.0 1053.8 L1558.0 1054.0 L1559.0 1053.9 L1560.0 1053.7 L1561.0 1054.0 L1562.0 1054.3 L1563.0 1053.8 L1564.0 1053.6 L1565.0 1053.9 L1566.0 1054.1 L1567.0 1053.6 L1568.0 1053.7 L1569.0 1053.5 L1570.0 1051.2 L1571.0 1048.3 L1572.0 1046.3 L1573.0 1043.3 L1574.0 1038.1 L1575.0 1032.0 L1576.0 1024.2 L1577.0 1014.4 L1578.0 1003.3 L1579.0 991.8 L1580.0 980.7 L1581.0 970.4 L1582.0 961.6 L1583.0 954.7 L1583.3 953.0 L1584.0 950.7 L1585.0 949.7 L1586.0 951.3 L1587.0 956.4 L1588.0 964.3 L1589.0 973.8 L1590.0 984.2 L1591.0 994.7 L1592.0 1005.2 L1593.0 1015.5 L1594.0 1023.7 L1595.0 1030.2 L1596.0 1036.4 L1597.0 1041.8 L1598.0 1046.3 L1599.0 1048.6 L1600.0 1050.1 L1601.0 1051.7 L1602.0 1052.6 L1603.0 1053.7 L1604.0 1054.8 L1605.0 1054.9 L1606.0 1055.1 L1607.0 1054.9 L1608.0 1054.6 L1609.0 1055.3 L1610.0 1055.6 L1611.0 1054.9 L1612.0 1054.4 L1613.0 1054.7 L1614.0 1054.6 L1615.0 1054.8 L1616.0 1055.7 L1617.0 1055.2 L1618.0 1054.2 L1619.0 1054.4 L1620.0 1055.0 L1621.0 1055.2 L1622.0 1055.1 L1623.0 1055.3 L1624.0 1054.8 L1625.0 1053.4 L1626.0 1052.8 L1627.0 1053.0 L1628.0 1053.9 L1629.0 1054.7 L1630.0 1054.0 L1631.0 1052.9 L1632.0 1053.1 L1633.0 1053.6 L1634.0 1053.1 L1635.0 1052.9 L1636.0 1052.5 L1637.0 1052.0 L1638.0 1052.6 L1639.0 1053.0 L1640.0 1052.4 L1641.0 1051.3 L1642.0 1050.7 L1643.0 1050.9 L1644.0 1051.1 L1645.0 1050.9 L1646.0 1051.0 L1647.0 1051.5 L1648.0 1050.6 L1649.0 1048.7 L1650.0 1048.3 L1651.0 1048.6 L1652.0 1048.0 L1653.0 1047.8 L1654.0 1047.1 L1655.0 1045.2 L1656.0 1044.0 L1657.0 1043.1 L1658.0 1041.7 L1659.0 1040.5 L1660.0 1040.2 L1661.0 1039.8 L1662.0 1038.4 L1663.0 1037.0 L1664.0 1035.5 L1665.0 1034.7 L1666.0 1033.9 L1667.0 1031.8 L1668.0 1030.8 L1669.0 1030.1 L1670.0 1028.1 L1671.0 1026.5 L1672.0 1023.6 L1673.0 1018.0 L1674.0 1010.9 L1675.0 1001.7 L1676.0 989.9 L1677.0 974.5 L1678.0 955.9 L1679.0 934.5 L1680.0 910.8 L1681.0 886.4 L1682.0 862.5 L1683.0 841.4 L1684.0 826.2 L1684.5 820.6 L1685.0 816.3 L1686.0 814.1 L1687.0 818.2 L1688.0 827.7 L1689.0 842.7 L1690.0 862.4 L1691.0 884.5 L1692.0 907.1 L1693.0 929.0 L1694.0 950.0 L1695.0 969.7 L1696.0 985.2 L1697.0 997.6 L1698.0 1008.8 L1699.0 1017.7 L1700.0 1024.1 L1701.0 1028.0 L1702.0 1030.6 L1703.0 1032.8 L1704.0 1034.8 L1705.0 1035.6 L1706.0 1035.1 L1707.0 1034.0 L1708.0 1033.3 L1709.0 1032.9 L1710.0 1032.8 L1711.0 1032.0 L1712.0 1029.9 L1713.0 1028.4 L1714.0 1027.0 L1715.0 1024.8 L1716.0 1021.7 L1717.0 1016.1 L1718.0 1007.4 L1719.0 995.0 L1720.0 976.0 L1721.0 949.0 L1722.0 916.0 L1723.0 877.6 L1724.0 835.5 L1725.0 794.8 L1726.0 761.4 L1727.0 739.2 L1727.0 738.8 L1728.0 730.7 L1729.0 736.8 L1730.0 751.9 L1731.0 772.9 L1732.0 800.2 L1733.0 831.6 L1734.0 864.4 L1735.0 897.5 L1736.0 928.1 L1737.0 954.6 L1738.0 976.5 L1739.0 993.5 L1740.0 1006.3 L1741.0 1016.1 L1742.0 1024.3 L1743.0 1029.1 L1744.0 1031.0 L1745.0 1032.3 L1746.0 1033.8 L1747.0 1035.0 L1748.0 1035.6 L1749.0 1035.5 L1750.0 1035.2 L1751.0 1035.7 L1752.0 1035.7 L1753.0 1035.4 L1754.0 1036.1 L1755.0 1037.5 L1756.0 1038.0 L1757.0 1037.9 L1758.0 1039.2 L1759.0 1039.7 L1760.0 1038.6 L1761.0 1038.3 L1762.0 1039.1 L1763.0 1039.6 L1764.0 1039.0 L1765.0 1038.7 L1766.0 1038.7 L1767.0 1038.5 L1768.0 1039.5 L1769.0 1040.6 L1770.0 1040.6 L1771.0 1040.6 L1772.0 1040.7 L1773.0 1040.6 L1774.0 1040.0 L1775.0 1039.4 L1776.0 1039.5 L1777.0 1040.2 L1778.0 1041.1 L1779.0 1041.3 L1780.0 1040.2 L1781.0 1039.1 L1782.0 1038.8 L1783.0 1039.4 L1784.0 1040.1 L1785.0 1039.6 L1786.0 1038.7 L1787.0 1038.4 L1788.0 1038.8 L1789.0 1038.5 L1790.0 1037.9 L1791.0 1038.1 L1792.0 1038.2 L1793.0 1037.8 L1794.0 1037.8 L1795.0 1037.4 L1796.0 1036.3 L1797.0 1035.7 L1798.0 1034.6 L1799.0 1033.5 L1800.0 1032.9 L1801.0 1032.5 L1802.0 1032.4 L1803.0 1032.0 L1804.0 1031.4 L1805.0 1029.5 L1806.0 1026.9 L1807.0 1025.3 L1808.0 1023.2 L1809.0 1019.9 L1810.0 1015.2 L1811.0 1009.3 L1812.0 1000.9 L1813.0 989.5 L1814.0 977.6 L1815.0 964.4 L1816.0 950.7 L1817.0 939.0 L1818.0 928.6 L1818.9 920.5 L1819.0 920.7 L1820.0 916.7 L1821.0 912.9 L1822.0 911.4 L1823.0 913.7 L1824.0 917.4 L1825.0 920.8 L1826.0 923.0 L1827.0 923.5 L1828.0 921.6 L1829.0 915.4 L1830.0 904.7 L1831.0 891.3 L1832.0 876.6 L1833.0 863.7 L1834.0 856.2 L1834.0 855.6 L1835.0 856.3 L1836.0 863.9 L1837.0 873.5 L1838.0 882.1 L1839.0 891.3 L1840.0 902.3 L1841.0 915.2 L1842.0 930.7 L1843.0 946.2 L1844.0 960.0 L1845.0 972.4 L1846.0 982.8 L1847.0 990.6 L1848.0 996.4 L1849.0 1002.1 L1850.0 1006.8 L1851.0 1009.4 L1852.0 1012.3 L1853.0 1015.5 L1854.0 1017.5 L1855.0 1019.2 L1856.0 1020.8 L1857.0 1022.5 L1858.0 1023.6 L1859.0 1023.8 L1860.0 1024.2 L1861.0 1024.5 L1862.0 1024.6 L1863.0 1024.5 L1864.0 1024.3 L1865.0 1025.1 L1866.0 1025.6 L1867.0 1024.9 L1868.0 1022.7 L1869.0 1020.2 L1870.0 1018.1 L1871.0 1014.8 L1872.0 1011.3 L1873.0 1006.7 L1874.0 999.3 L1875.0 990.5 L1876.0 979.0 L1877.0 963.2 L1878.0 943.8 L1879.0 920.0 L1880.0 891.1 L1881.0 857.2 L1882.0 817.4 L1883.0 772.5 L1884.0 726.9 L1885.0 683.1 L1886.0 644.7 L1887.0 617.8 L1887.3 613.5 L1888.0 604.7 L1889.0 603.9 L1890.0 615.1 L1891.0 633.9 L1892.0 657.2 L1893.0 686.7 L1894.0 721.8 L1895.0 758.4 L1896.0 794.6 L1897.0 831.1 L1898.0 865.6 L1899.0 895.2 L1900.0 920.5 L1901.0 942.0 L1902.0 958.5 L1903.0 970.4 L1904.0 980.1 L1905.0 989.2 L1906.0 996.0 L1907.0 999.3 L1908.0 1001.0 L1909.0 1003.0 L1910.0 1003.5 L1911.0 1001.8 L1912.0 999.5 L1913.0 996.8 L1914.0 992.4 L1915.0 985.7 L1916.0 977.0 L1917.0 965.9 L1918.0 952.0 L1919.0 936.0 L1920.0 918.9 L1921.0 902.1 L1922.0 889.3 L1922.7 885.0 L1923.0 884.1 L1924.0 884.8 L1925.0 890.3 L1926.0 898.5 L1927.0 906.4 L1928.0 913.9 L1929.0 924.1 L1930.0 937.0 L1931.0 950.3 L1932.0 962.5 L1933.0 974.5 L1934.0 985.6 L1935.0 995.1 L1936.0 1002.4 L1937.0 1006.8 L1938.0 1010.7 L1939.0 1015.4 L1940.0 1019.1 L1941.0 1021.9 L1942.0 1024.6 L1943.0 1026.5 L1944.0 1026.6 L1945.0 1026.4 L1946.0 1027.0 L1947.0 1028.7 L1948.0 1029.9 L1949.0 1030.2 L1950.0 1030.7 L1951.0 1031.1 L1952.0 1031.5 L1953.0 1030.9 L1954.0 1029.8 L1955.0 1029.4 L1956.0 1028.9 L1957.0 1029.1 L1958.0 1030.4 L1959.0 1031.7 L1960.0 1031.8 L1961.0 1030.8 L1962.0 1029.7 L1963.0 1029.6 L1964.0 1030.3 L1965.0 1030.2 L1966.0 1029.7 L1967.0 1030.0 L1968.0 1029.5 L1969.0 1028.7 L1970.0 1029.2 L1971.0 1029.4 L1972.0 1028.8 L1973.0 1029.2 L1974.0 1030.3 L1975.0 1030.9 L1976.0 1030.0 L1977.0 1028.3 L1978.0 1028.0 L1979.0 1028.4 L1980.0 1027.6 L1981.0 1026.8 L1982.0 1027.3 L1983.0 1028.9 L1984.0 1029.2 L1985.0 1028.4 L1986.0 1027.7 L1987.0 1027.1 L1988.0 1027.1 L1989.0 1027.2 L1990.0 1027.2 L1991.0 1027.3 L1992.0 1026.6 L1993.0 1026.3 L1994.0 1026.9 L1995.0 1026.8 L1996.0 1026.3 L1997.0 1025.2 L1998.0 1024.4 L1999.0 1024.8 L2000.0 1025.1 L2001.0 1025.0 L2002.0 1023.8 L2003.0 1023.2 L2004.0 1024.3 L2005.0 1024.7 L2006.0 1023.8 L2007.0 1023.3 L2008.0 1023.1 L2009.0 1022.2 L2010.0 1021.5 L2011.0 1021.1 L2012.0 1020.7 L2013.0 1020.0 L2014.0 1018.3 L2015.0 1016.7 L2016.0 1013.8 L2017.0 1009.2 L2018.0 1004.9 L2019.0 1000.7 L2020.0 995.4 L2021.0 989.0 L2022.0 982.0 L2023.0 976.2 L2024.0 970.3 L2025.0 963.7 L2026.0 958.9 L2026.5 957.6 L2027.0 957.0 L2028.0 956.5 L2029.0 957.5 L2030.0 959.6 L2031.0 962.9 L2032.0 966.7 L2033.0 970.2 L2034.0 975.6 L2035.0 982.0 L2036.0 987.6 L2037.0 993.1 L2038.0 998.0 L2039.0 1002.2 L2040.0 1005.8 L2041.0 1008.9 L2042.0 1011.6 L2043.0 1013.2 L2044.0 1014.7 L2045.0 1016.0 L2046.0 1015.2 L2047.0 1014.0 L2048.0 1014.0 L2049.0 1013.3 L2050.0 1011.9 L2051.0 1009.2 L2052.0 1005.4 L2053.0 1002.1 L2054.0 997.9 L2055.0 991.8 L2056.0 983.8 L2057.0 974.7 L2058.0 966.9 L2059.0 958.4 L2060.0 948.4 L2061.0 941.4 L2061.7 939.4 L2062.0 939.6 L2063.0 939.4 L2064.0 941.0 L2065.0 945.4 L2066.0 950.1 L2067.0 953.8 L2068.0 959.2 L2069.0 966.2 L2070.0 972.3 L2071.0 976.5 L2072.0 979.2 L2073.0 980.7 L2074.0 977.6 L2075.0 967.9 L2076.0 954.4 L2077.0 938.2 L2078.0 920.5 L2079.0 907.8 L2079.7 904.4 L2080.0 904.2 L2081.0 907.9 L2082.0 917.6 L2083.0 929.3 L2084.0 939.1 L2085.0 946.7 L2086.0 954.2 L2087.0 962.1 L2088.0 971.1 L2089.0 981.9 L2090.0 991.9 L2091.0 999.9 L2092.0 1006.9 L2093.0 1011.4 L2094.0 1011.5 L2095.0 1008.5 L2096.0 1004.1 L2097.0 997.7 L2098.0 990.6 L2099.0 984.0 L2100.0 976.8 L2101.0 969.5 L2102.0 963.5 L2102.8 960.2 L2103.0 959.6 L2104.0 958.6 L2105.0 959.1 L2106.0 959.8 L2107.0 959.7 L2108.0 958.3 L2109.0 957.3 L2110.0 956.7 L2111.0 954.2 L2112.0 949.9 L2113.0 945.5 L2114.0 942.5 L2115.0 941.9 L2115.7 942.2 L2116.0 941.9 L2117.0 945.1 L2118.0 950.0 L2119.0 954.9 L2120.0 960.6 L2121.0 966.9 L2122.0 973.5 L2123.0 980.7 L2124.0 986.9 L2125.0 992.9 L2126.0 1000.2 L2127.0 1006.1 L2128.0 1010.8 L2129.0 1015.1 L2130.0 1017.7 L2131.0 1020.1 L2132.0 1021.5 L2133.0 1021.7 L2134.0 1022.9 L2135.0 1023.5 L2136.0 1022.9 L2137.0 1022.7 L2138.0 1022.6 L2139.0 1022.1 L2140.0 1021.7 L2141.0 1021.6 L2142.0 1021.9 L2143.0 1022.2 L2144.0 1021.1 L2145.0 1020.4 L2146.0 1020.6 L2147.0 1020.8 L2148.0 1021.0 L2149.0 1020.4 L2150.0 1019.2 L2151.0 1018.4 L2152.0 1018.2 L2153.0 1018.1 L2154.0 1017.1 L2155.0 1014.9 L2156.0 1013.8 L2157.0 1014.4 L2158.0 1013.4 L2159.0 1011.0 L2160.0 1008.6 L2161.0 1005.7 L2162.0 1002.8 L2163.0 1000.1 L2164.0 996.9 L2165.0 992.7 L2166.0 988.6 L2167.0 985.6 L2168.0 983.1 L2169.0 980.8 L2169.2 979.9 L2170.0 978.6 L2171.0 979.3 L2172.0 980.3 L2173.0 980.6 L2174.0 981.6 L2175.0 983.3 L2176.0 984.4 L2177.0 985.4 L2178.0 986.4 L2179.0 987.4 L2180.0 987.8 L2181.0 988.6 L2181.8 990.4 L2182.0 991.4 L2183.0 993.9 L2184.0 996.1 L2185.0 998.7 L2186.0 1001.9 L2187.0 1004.3 L2188.0 1006.0 L2189.0 1007.6 L2190.0 1009.1 L2191.0 1010.9 L2192.0 1012.6 L2193.0 1013.8 L2194.0 1014.9 L2195.0 1016.6 L2196.0 1018.2 L2197.0 1018.1 L2198.0 1017.7 L2199.0 1018.0 L2200.0 1018.6 L2201.0 1018.7 L2202.0 1017.8 L2203.0 1017.7 L2204.0 1018.4 L2205.0 1018.6 L2206.0 1019.3 L2207.0 1020.1 L2208.0 1021.0 L2209.0 1021.2 L2210.0 1020.4 L2211.0 1019.2 L2212.0 1018.7 L2213.0 1019.0 L2214.0 1019.0 L2215.0 1018.6 L2216.0 1019.3 L2217.0 1020.1 L2218.0 1020.1 L2219.0 1019.8 L2220.0 1019.5 L2221.0 1019.2 L2222.0 1018.6 L2223.0 1018.4 L2224.0 1019.6 L2225.0 1020.6 L2226.0 1020.2 L2227.0 1019.4 L2228.0 1019.3 L2229.0 1019.6 L2230.0 1019.4 L2231.0 1019.4 L2232.0 1019.0 L2233.0 1018.6 L2234.0 1019.1 L2235.0 1019.0 L2236.0 1018.8 L2237.0 1018.8 L2238.0 1018.3 L2239.0 1018.1 L2240.0 1018.1 L2241.0 1017.8 L2242.0 1017.4 L2243.0 1016.7 L2244.0 1016.0 L2245.0 1016.1 L2246.0 1016.4 L2247.0 1016.9 L2248.0 1016.7 L2249.0 1015.6 L2250.0 1014.9 L2251.0 1014.1 L2252.0 1013.9 L2253.0 1013.8 L2254.0 1012.6 L2255.0 1012.6 L2256.0 1013.6 L2257.0 1013.7 L2258.0 1012.9 L2259.0 1012.8 L2260.0 1013.2 L2261.0 1012.0 L2262.0 1011.1 L2263.0 1011.5 L2264.0 1010.6 L2265.0 1009.1" fill="none" stroke="#940000" stroke-width="3.8" stroke-linejoin="round"/>
<line x1="755.4" y1="1363.3" x2="754.5" y2="486.9" stroke="#000" stroke-width="5" stroke-dasharray="21.4 14.56"/>
<line x1="834.4" y1="1413.7" x2="831.6" y2="315.5" stroke="#000" stroke-width="5" stroke-dasharray="21.4 14.56"/>
<line x1="872.2" y1="1232.7" x2="869.5" y2="133.1" stroke="#000" stroke-width="5" stroke-dasharray="21.4 14.56"/>
<line x1="977.3" y1="1239.0" x2="973.4" y2="140.1" stroke="#000" stroke-width="5" stroke-dasharray="21.4 14.56"/>
<line x1="1085.6" y1="1424.8" x2="1084.4" y2="327.2" stroke="#000" stroke-width="5" stroke-dasharray="21.4 14.56"/>
<line x1="1125.2" y1="1468.8" x2="1119.2" y2="372.0" stroke="#000" stroke-width="5" stroke-dasharray="21.4 14.56"/>
<line x1="1244.8" y1="1421.6" x2="1242.5" y2="323.3" stroke="#000" stroke-width="5" stroke-dasharray="21.4 14.56"/>
<line x1="1287.0" y1="1475.2" x2="1286.3" y2="600.3" stroke="#000" stroke-width="5" stroke-dasharray="21.4 14.56"/>
<line x1="1730.8" y1="1456.3" x2="1729.0" y2="358.2" stroke="#000" stroke-width="5" stroke-dasharray="21.4 14.56"/>
<line x1="384.0" y1="48.4" x2="384.0" y2="1615" stroke="#000" stroke-width="6.3" stroke-linecap="butt"/>
<line x1="355" y1="1584.5" x2="2268.6" y2="1584.5" stroke="#000" stroke-width="6.3"/>
<line x1="355" y1="1584.5" x2="384.0" y2="1584.5" stroke="#000" stroke-width="6.3" stroke-linecap="round"/>
<text x="336" y="1599.8" text-anchor="end" font-size="57">0</text>
<line x1="370" y1="1533.4" x2="384.0" y2="1533.4" stroke="#000" stroke-width="6.3" stroke-linecap="round"/>
<line x1="355" y1="1482.3" x2="384.0" y2="1482.3" stroke="#000" stroke-width="6.3" stroke-linecap="round"/>
<text x="336" y="1497.6" text-anchor="end" font-size="57">20000</text>
<line x1="370" y1="1431.2" x2="384.0" y2="1431.2" stroke="#000" stroke-width="6.3" stroke-linecap="round"/>
<line x1="355" y1="1380.1" x2="384.0" y2="1380.1" stroke="#000" stroke-width="6.3" stroke-linecap="round"/>
<text x="336" y="1395.4" text-anchor="end" font-size="57">40000</text>
<line x1="370" y1="1329.0" x2="384.0" y2="1329.0" stroke="#000" stroke-width="6.3" stroke-linecap="round"/>
<line x1="355" y1="1277.9" x2="384.0" y2="1277.9" stroke="#000" stroke-width="6.3" stroke-linecap="round"/>
<text x="336" y="1293.2" text-anchor="end" font-size="57">60000</text>
<line x1="370" y1="1226.8" x2="384.0" y2="1226.8" stroke="#000" stroke-width="6.3" stroke-linecap="round"/>
<line x1="355" y1="1175.7" x2="384.0" y2="1175.7" stroke="#000" stroke-width="6.3" stroke-linecap="round"/>
<text x="336" y="1191.0" text-anchor="end" font-size="57">80000</text>
<line x1="370" y1="1124.6" x2="384.0" y2="1124.6" stroke="#000" stroke-width="6.3" stroke-linecap="round"/>
<line x1="355" y1="1073.5" x2="384.0" y2="1073.5" stroke="#000" stroke-width="6.3" stroke-linecap="round"/>
<text x="336" y="1088.8" text-anchor="end" font-size="57">100000</text>
<line x1="370" y1="1022.4" x2="384.0" y2="1022.4" stroke="#000" stroke-width="6.3" stroke-linecap="round"/>
<line x1="355" y1="971.3" x2="384.0" y2="971.3" stroke="#000" stroke-width="6.3" stroke-linecap="round"/>
<text x="336" y="986.6" text-anchor="end" font-size="57">120000</text>
<line x1="370" y1="920.2" x2="384.0" y2="920.2" stroke="#000" stroke-width="6.3" stroke-linecap="round"/>
<line x1="355" y1="869.1" x2="384.0" y2="869.1" stroke="#000" stroke-width="6.3" stroke-linecap="round"/>
<text x="336" y="884.4" text-anchor="end" font-size="57">140000</text>
<line x1="370" y1="818.0" x2="384.0" y2="818.0" stroke="#000" stroke-width="6.3" stroke-linecap="round"/>
<line x1="355" y1="766.9" x2="384.0" y2="766.9" stroke="#000" stroke-width="6.3" stroke-linecap="round"/>
<text x="336" y="782.2" text-anchor="end" font-size="57">160000</text>
<line x1="370" y1="715.8" x2="384.0" y2="715.8" stroke="#000" stroke-width="6.3" stroke-linecap="round"/>
<line x1="355" y1="664.7" x2="384.0" y2="664.7" stroke="#000" stroke-width="6.3" stroke-linecap="round"/>
<text x="336" y="680.0" text-anchor="end" font-size="57">180000</text>
<line x1="370" y1="613.6" x2="384.0" y2="613.6" stroke="#000" stroke-width="6.3" stroke-linecap="round"/>
<line x1="355" y1="562.5" x2="384.0" y2="562.5" stroke="#000" stroke-width="6.3" stroke-linecap="round"/>
<text x="336" y="577.8" text-anchor="end" font-size="57">200000</text>
<line x1="370" y1="511.4" x2="384.0" y2="511.4" stroke="#000" stroke-width="6.3" stroke-linecap="round"/>
<line x1="355" y1="460.3" x2="384.0" y2="460.3" stroke="#000" stroke-width="6.3" stroke-linecap="round"/>
<text x="336" y="475.6" text-anchor="end" font-size="57">220000</text>
<line x1="370" y1="409.2" x2="384.0" y2="409.2" stroke="#000" stroke-width="6.3" stroke-linecap="round"/>
<line x1="355" y1="358.1" x2="384.0" y2="358.1" stroke="#000" stroke-width="6.3" stroke-linecap="round"/>
<text x="336" y="373.4" text-anchor="end" font-size="57">240000</text>
<line x1="370" y1="307.0" x2="384.0" y2="307.0" stroke="#000" stroke-width="6.3" stroke-linecap="round"/>
<line x1="355" y1="255.9" x2="384.0" y2="255.9" stroke="#000" stroke-width="6.3" stroke-linecap="round"/>
<text x="336" y="271.2" text-anchor="end" font-size="57">260000</text>
<line x1="370" y1="204.8" x2="384.0" y2="204.8" stroke="#000" stroke-width="6.3" stroke-linecap="round"/>
<line x1="355" y1="153.7" x2="384.0" y2="153.7" stroke="#000" stroke-width="6.3" stroke-linecap="round"/>
<text x="336" y="169.0" text-anchor="end" font-size="57">280000</text>
<line x1="370" y1="102.6" x2="384.0" y2="102.6" stroke="#000" stroke-width="6.3" stroke-linecap="round"/>
<line x1="355" y1="51.5" x2="384.0" y2="51.5" stroke="#000" stroke-width="6.3" stroke-linecap="round"/>
<text x="336" y="66.8" text-anchor="end" font-size="57">300000</text>
<line x1="384.0" y1="1584.5" x2="384.0" y2="1612.5" stroke="#000" stroke-width="6.3" stroke-linecap="round"/>
<text x="384.0" y="1676" text-anchor="middle" font-size="57">20</text>
<line x1="540.8" y1="1584.5" x2="540.8" y2="1598.5" stroke="#000" stroke-width="6.3" stroke-linecap="round"/>
<line x1="697.6" y1="1584.5" x2="697.6" y2="1612.5" stroke="#000" stroke-width="6.3" stroke-linecap="round"/>
<text x="697.6" y="1676" text-anchor="middle" font-size="57">30</text>
<line x1="854.4" y1="1584.5" x2="854.4" y2="1598.5" stroke="#000" stroke-width="6.3" stroke-linecap="round"/>
<line x1="1011.1" y1="1584.5" x2="1011.1" y2="1612.5" stroke="#000" stroke-width="6.3" stroke-linecap="round"/>
<text x="1011.1" y="1676" text-anchor="middle" font-size="57">40</text>
<line x1="1167.9" y1="1584.5" x2="1167.9" y2="1598.5" stroke="#000" stroke-width="6.3" stroke-linecap="round"/>
<line x1="1324.7" y1="1584.5" x2="1324.7" y2="1612.5" stroke="#000" stroke-width="6.3" stroke-linecap="round"/>
<text x="1324.7" y="1676" text-anchor="middle" font-size="57">50</text>
<line x1="1481.5" y1="1584.5" x2="1481.5" y2="1598.5" stroke="#000" stroke-width="6.3" stroke-linecap="round"/>
<line x1="1638.3" y1="1584.5" x2="1638.3" y2="1612.5" stroke="#000" stroke-width="6.3" stroke-linecap="round"/>
<text x="1638.3" y="1676" text-anchor="middle" font-size="57">60</text>
<line x1="1795.0" y1="1584.5" x2="1795.0" y2="1598.5" stroke="#000" stroke-width="6.3" stroke-linecap="round"/>
<line x1="1951.8" y1="1584.5" x2="1951.8" y2="1612.5" stroke="#000" stroke-width="6.3" stroke-linecap="round"/>
<text x="1951.8" y="1676" text-anchor="middle" font-size="57">70</text>
<line x1="2108.6" y1="1584.5" x2="2108.6" y2="1598.5" stroke="#000" stroke-width="6.3" stroke-linecap="round"/>
<line x1="2265.4" y1="1584.5" x2="2265.4" y2="1612.5" stroke="#000" stroke-width="6.3" stroke-linecap="round"/>
<text x="2265.4" y="1676" text-anchor="middle" font-size="57">80</text>
<text x="1325" y="1789.4" text-anchor="middle" font-size="70.6">2 Theta, Degrees</text>
<text transform="translate(48,842.5) rotate(-90)" text-anchor="middle" font-size="70">a.u.</text>
<rect x="1842.5" y="50.3" width="642.5" height="421" fill="none" stroke="#000" stroke-width="4.3"/>
<line x1="1896.5" y1="131" x2="2054.2" y2="131" stroke="#000000" stroke-width="3.8" stroke-linecap="round"/>
<text x="2073.4" y="153.7" font-size="70">CuZn-P</text>
<line x1="1896.5" y1="217" x2="2054.2" y2="217" stroke="#ff0000" stroke-width="3.8" stroke-linecap="round"/>
<text x="2073.4" y="241.7" font-size="70">CuZn-220N</text>
<line x1="1896.5" y1="303.5" x2="2054.2" y2="303.5" stroke="#0000ff" stroke-width="3.8" stroke-linecap="round"/>
<text x="2073.4" y="327.9" font-size="70">CuZn-350N</text>
<line x1="1896.5" y1="389.5" x2="2054.2" y2="389.5" stroke="#940000" stroke-width="3.8" stroke-linecap="round"/>
<text x="2073.4" y="413.8" font-size="70">CuZn-500N</text>
<text x="782.8" y="77.7" font-size="70">CuO</text>
<text x="924.5" y="102.4" font-size="70">CuO</text>
<text x="728.3" y="228" font-size="70">ZnO</text>
<text x="643" y="313" font-size="70">ZnO</text>
<text x="1178.4" y="255.2" font-size="70">ZnO</text>
<text x="1100.8" y="335.7" font-size="70">Cu</text>
<text x="1255.7" y="578.8" font-size="70">CuO</text>
<text x="1655.1" y="307.8" font-size="70">ZnO</text>
<text x="985.8" y="243.2" font-size="70">Cu<tspan font-size="42" dy="27.8">2</tspan><tspan dy="-27.8">O</tspan></text>
</svg></body></html>
